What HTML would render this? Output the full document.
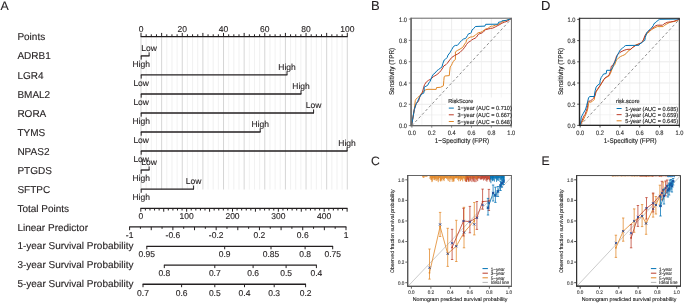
<!DOCTYPE html>
<html><head><meta charset="utf-8"><style>
html,body{margin:0;padding:0;background:#fff;}
body{width:685px;height:303px;overflow:hidden;}
svg{display:block;font-family:"Liberation Sans", sans-serif;}
svg{will-change:transform;}
text{text-rendering:geometricPrecision;stroke-width:0.12px;}
</style></head><body>
<svg width="685" height="303" viewBox="0 0 685 303">
<rect width="685" height="303" fill="#fff"/>
<text x="0.6" y="10" font-size="12.3" text-anchor="start" fill="#231f20" stroke="#231f20" >A</text>
<text x="17.4" y="40.3" font-size="10" text-anchor="start" fill="#231f20" stroke="#231f20" >Points</text>
<text x="17.4" y="59.4" font-size="10" text-anchor="start" fill="#231f20" stroke="#231f20" >ADRB1</text>
<text x="17.4" y="78.6" font-size="10" text-anchor="start" fill="#231f20" stroke="#231f20" >LGR4</text>
<text x="17.4" y="97.6" font-size="10" text-anchor="start" fill="#231f20" stroke="#231f20" >BMAL2</text>
<text x="17.4" y="116.6" font-size="10" text-anchor="start" fill="#231f20" stroke="#231f20" >RORA</text>
<text x="17.4" y="135.6" font-size="10" text-anchor="start" fill="#231f20" stroke="#231f20" >TYMS</text>
<text x="17.4" y="154.6" font-size="10" text-anchor="start" fill="#231f20" stroke="#231f20" >NPAS2</text>
<text x="17.4" y="173.6" font-size="10" text-anchor="start" fill="#231f20" stroke="#231f20" >PTGDS</text>
<text x="17.4" y="192.7" font-size="10" text-anchor="start" fill="#231f20" stroke="#231f20" >SFTPC</text>
<text x="17.4" y="211.7" font-size="10" text-anchor="start" fill="#231f20" stroke="#231f20" >Total Points</text>
<text x="17.4" y="230.8" font-size="10" text-anchor="start" fill="#231f20" stroke="#231f20" >Linear Predictor</text>
<text x="17.4" y="248.9" font-size="10" text-anchor="start" fill="#231f20" stroke="#231f20" >1-year Survival Probability</text>
<text x="17.4" y="267.8" font-size="10" text-anchor="start" fill="#231f20" stroke="#231f20" >3-year Survival Probability</text>
<text x="17.4" y="286.8" font-size="10" text-anchor="start" fill="#231f20" stroke="#231f20" >5-year Survival Probability</text>
<line x1="141" y1="37" x2="141" y2="189.5" stroke="#c4c4c4" stroke-width="0.7" />
<line x1="146.16" y1="37" x2="146.16" y2="189.5" stroke="#e8e8e8" stroke-width="0.6" />
<line x1="151.31" y1="37" x2="151.31" y2="189.5" stroke="#e8e8e8" stroke-width="0.6" />
<line x1="156.47" y1="37" x2="156.47" y2="189.5" stroke="#e8e8e8" stroke-width="0.6" />
<line x1="161.63" y1="37" x2="161.63" y2="189.5" stroke="#c4c4c4" stroke-width="0.7" />
<line x1="166.79" y1="37" x2="166.79" y2="189.5" stroke="#e8e8e8" stroke-width="0.6" />
<line x1="171.94" y1="37" x2="171.94" y2="189.5" stroke="#e8e8e8" stroke-width="0.6" />
<line x1="177.1" y1="37" x2="177.1" y2="189.5" stroke="#e8e8e8" stroke-width="0.6" />
<line x1="182.26" y1="37" x2="182.26" y2="189.5" stroke="#c4c4c4" stroke-width="0.7" />
<line x1="187.42" y1="37" x2="187.42" y2="189.5" stroke="#e8e8e8" stroke-width="0.6" />
<line x1="192.57" y1="37" x2="192.57" y2="189.5" stroke="#e8e8e8" stroke-width="0.6" />
<line x1="197.73" y1="37" x2="197.73" y2="189.5" stroke="#e8e8e8" stroke-width="0.6" />
<line x1="202.89" y1="37" x2="202.89" y2="189.5" stroke="#c4c4c4" stroke-width="0.7" />
<line x1="208.05" y1="37" x2="208.05" y2="189.5" stroke="#e8e8e8" stroke-width="0.6" />
<line x1="213.21" y1="37" x2="213.21" y2="189.5" stroke="#e8e8e8" stroke-width="0.6" />
<line x1="218.36" y1="37" x2="218.36" y2="189.5" stroke="#e8e8e8" stroke-width="0.6" />
<line x1="223.52" y1="37" x2="223.52" y2="189.5" stroke="#c4c4c4" stroke-width="0.7" />
<line x1="228.68" y1="37" x2="228.68" y2="189.5" stroke="#e8e8e8" stroke-width="0.6" />
<line x1="233.84" y1="37" x2="233.84" y2="189.5" stroke="#e8e8e8" stroke-width="0.6" />
<line x1="238.99" y1="37" x2="238.99" y2="189.5" stroke="#e8e8e8" stroke-width="0.6" />
<line x1="244.15" y1="37" x2="244.15" y2="189.5" stroke="#c4c4c4" stroke-width="0.7" />
<line x1="249.31" y1="37" x2="249.31" y2="189.5" stroke="#e8e8e8" stroke-width="0.6" />
<line x1="254.47" y1="37" x2="254.47" y2="189.5" stroke="#e8e8e8" stroke-width="0.6" />
<line x1="259.62" y1="37" x2="259.62" y2="189.5" stroke="#e8e8e8" stroke-width="0.6" />
<line x1="264.78" y1="37" x2="264.78" y2="189.5" stroke="#c4c4c4" stroke-width="0.7" />
<line x1="269.94" y1="37" x2="269.94" y2="189.5" stroke="#e8e8e8" stroke-width="0.6" />
<line x1="275.1" y1="37" x2="275.1" y2="189.5" stroke="#e8e8e8" stroke-width="0.6" />
<line x1="280.25" y1="37" x2="280.25" y2="189.5" stroke="#e8e8e8" stroke-width="0.6" />
<line x1="285.41" y1="37" x2="285.41" y2="189.5" stroke="#c4c4c4" stroke-width="0.7" />
<line x1="290.57" y1="37" x2="290.57" y2="189.5" stroke="#e8e8e8" stroke-width="0.6" />
<line x1="295.73" y1="37" x2="295.73" y2="189.5" stroke="#e8e8e8" stroke-width="0.6" />
<line x1="300.88" y1="37" x2="300.88" y2="189.5" stroke="#e8e8e8" stroke-width="0.6" />
<line x1="306.04" y1="37" x2="306.04" y2="189.5" stroke="#c4c4c4" stroke-width="0.7" />
<line x1="311.2" y1="37" x2="311.2" y2="189.5" stroke="#e8e8e8" stroke-width="0.6" />
<line x1="316.36" y1="37" x2="316.36" y2="189.5" stroke="#e8e8e8" stroke-width="0.6" />
<line x1="321.51" y1="37" x2="321.51" y2="189.5" stroke="#e8e8e8" stroke-width="0.6" />
<line x1="326.67" y1="37" x2="326.67" y2="189.5" stroke="#c4c4c4" stroke-width="0.7" />
<line x1="331.83" y1="37" x2="331.83" y2="189.5" stroke="#e8e8e8" stroke-width="0.6" />
<line x1="336.99" y1="37" x2="336.99" y2="189.5" stroke="#e8e8e8" stroke-width="0.6" />
<line x1="342.14" y1="37" x2="342.14" y2="189.5" stroke="#e8e8e8" stroke-width="0.6" />
<line x1="347.3" y1="37" x2="347.3" y2="189.5" stroke="#c4c4c4" stroke-width="0.7" />
<line x1="140.6" y1="36.6" x2="347.7" y2="36.6" stroke="#231f20" stroke-width="1.35" />
<line x1="141" y1="36.6" x2="141" y2="32.9" stroke="#231f20" stroke-width="1" />
<line x1="146.16" y1="36.6" x2="146.16" y2="34.3" stroke="#231f20" stroke-width="1" />
<line x1="151.31" y1="36.6" x2="151.31" y2="34.3" stroke="#231f20" stroke-width="1" />
<line x1="156.47" y1="36.6" x2="156.47" y2="34.3" stroke="#231f20" stroke-width="1" />
<line x1="161.63" y1="36.6" x2="161.63" y2="32.9" stroke="#231f20" stroke-width="1" />
<line x1="166.79" y1="36.6" x2="166.79" y2="34.3" stroke="#231f20" stroke-width="1" />
<line x1="171.94" y1="36.6" x2="171.94" y2="34.3" stroke="#231f20" stroke-width="1" />
<line x1="177.1" y1="36.6" x2="177.1" y2="34.3" stroke="#231f20" stroke-width="1" />
<line x1="182.26" y1="36.6" x2="182.26" y2="32.9" stroke="#231f20" stroke-width="1" />
<line x1="187.42" y1="36.6" x2="187.42" y2="34.3" stroke="#231f20" stroke-width="1" />
<line x1="192.57" y1="36.6" x2="192.57" y2="34.3" stroke="#231f20" stroke-width="1" />
<line x1="197.73" y1="36.6" x2="197.73" y2="34.3" stroke="#231f20" stroke-width="1" />
<line x1="202.89" y1="36.6" x2="202.89" y2="32.9" stroke="#231f20" stroke-width="1" />
<line x1="208.05" y1="36.6" x2="208.05" y2="34.3" stroke="#231f20" stroke-width="1" />
<line x1="213.21" y1="36.6" x2="213.21" y2="34.3" stroke="#231f20" stroke-width="1" />
<line x1="218.36" y1="36.6" x2="218.36" y2="34.3" stroke="#231f20" stroke-width="1" />
<line x1="223.52" y1="36.6" x2="223.52" y2="32.9" stroke="#231f20" stroke-width="1" />
<line x1="228.68" y1="36.6" x2="228.68" y2="34.3" stroke="#231f20" stroke-width="1" />
<line x1="233.84" y1="36.6" x2="233.84" y2="34.3" stroke="#231f20" stroke-width="1" />
<line x1="238.99" y1="36.6" x2="238.99" y2="34.3" stroke="#231f20" stroke-width="1" />
<line x1="244.15" y1="36.6" x2="244.15" y2="32.9" stroke="#231f20" stroke-width="1" />
<line x1="249.31" y1="36.6" x2="249.31" y2="34.3" stroke="#231f20" stroke-width="1" />
<line x1="254.47" y1="36.6" x2="254.47" y2="34.3" stroke="#231f20" stroke-width="1" />
<line x1="259.62" y1="36.6" x2="259.62" y2="34.3" stroke="#231f20" stroke-width="1" />
<line x1="264.78" y1="36.6" x2="264.78" y2="32.9" stroke="#231f20" stroke-width="1" />
<line x1="269.94" y1="36.6" x2="269.94" y2="34.3" stroke="#231f20" stroke-width="1" />
<line x1="275.1" y1="36.6" x2="275.1" y2="34.3" stroke="#231f20" stroke-width="1" />
<line x1="280.25" y1="36.6" x2="280.25" y2="34.3" stroke="#231f20" stroke-width="1" />
<line x1="285.41" y1="36.6" x2="285.41" y2="32.9" stroke="#231f20" stroke-width="1" />
<line x1="290.57" y1="36.6" x2="290.57" y2="34.3" stroke="#231f20" stroke-width="1" />
<line x1="295.73" y1="36.6" x2="295.73" y2="34.3" stroke="#231f20" stroke-width="1" />
<line x1="300.88" y1="36.6" x2="300.88" y2="34.3" stroke="#231f20" stroke-width="1" />
<line x1="306.04" y1="36.6" x2="306.04" y2="32.9" stroke="#231f20" stroke-width="1" />
<line x1="311.2" y1="36.6" x2="311.2" y2="34.3" stroke="#231f20" stroke-width="1" />
<line x1="316.36" y1="36.6" x2="316.36" y2="34.3" stroke="#231f20" stroke-width="1" />
<line x1="321.51" y1="36.6" x2="321.51" y2="34.3" stroke="#231f20" stroke-width="1" />
<line x1="326.67" y1="36.6" x2="326.67" y2="32.9" stroke="#231f20" stroke-width="1" />
<line x1="331.83" y1="36.6" x2="331.83" y2="34.3" stroke="#231f20" stroke-width="1" />
<line x1="336.99" y1="36.6" x2="336.99" y2="34.3" stroke="#231f20" stroke-width="1" />
<line x1="342.14" y1="36.6" x2="342.14" y2="34.3" stroke="#231f20" stroke-width="1" />
<line x1="347.3" y1="36.6" x2="347.3" y2="32.9" stroke="#231f20" stroke-width="1" />
<text x="141" y="31.5" font-size="8.5" text-anchor="middle" fill="#231f20" stroke="#231f20" >0</text>
<text x="182.26" y="31.5" font-size="8.5" text-anchor="middle" fill="#231f20" stroke="#231f20" >20</text>
<text x="223.52" y="31.5" font-size="8.5" text-anchor="middle" fill="#231f20" stroke="#231f20" >40</text>
<text x="264.78" y="31.5" font-size="8.5" text-anchor="middle" fill="#231f20" stroke="#231f20" >60</text>
<text x="306.04" y="31.5" font-size="8.5" text-anchor="middle" fill="#231f20" stroke="#231f20" >80</text>
<text x="347.3" y="31.5" font-size="8.5" text-anchor="middle" fill="#231f20" stroke="#231f20" >100</text>
<line x1="140.8" y1="55.9" x2="149.5" y2="55.9" stroke="#231f20" stroke-width="1.35" />
<line x1="141.2" y1="55.9" x2="141.2" y2="59.6" stroke="#231f20" stroke-width="1" />
<line x1="149.1" y1="55.9" x2="149.1" y2="52.3" stroke="#231f20" stroke-width="1" />
<text x="141.2" y="66.8" font-size="8.5" text-anchor="middle" fill="#231f20" stroke="#231f20" >High</text>
<text x="149.1" y="50.8" font-size="8.5" text-anchor="middle" fill="#231f20" stroke="#231f20" >Low</text>
<line x1="140.8" y1="74.9" x2="287.4" y2="74.9" stroke="#231f20" stroke-width="1.35" />
<line x1="141.2" y1="74.9" x2="141.2" y2="78.6" stroke="#231f20" stroke-width="1" />
<line x1="287" y1="74.9" x2="287" y2="71.3" stroke="#231f20" stroke-width="1" />
<text x="141.2" y="85.8" font-size="8.5" text-anchor="middle" fill="#231f20" stroke="#231f20" >Low</text>
<text x="287" y="69.8" font-size="8.5" text-anchor="middle" fill="#231f20" stroke="#231f20" >High</text>
<line x1="140.8" y1="94" x2="301.4" y2="94" stroke="#231f20" stroke-width="1.35" />
<line x1="141.2" y1="94" x2="141.2" y2="97.7" stroke="#231f20" stroke-width="1" />
<line x1="301" y1="94" x2="301" y2="90.4" stroke="#231f20" stroke-width="1" />
<text x="141.2" y="104.9" font-size="8.5" text-anchor="middle" fill="#231f20" stroke="#231f20" >Low</text>
<text x="301" y="88.9" font-size="8.5" text-anchor="middle" fill="#231f20" stroke="#231f20" >High</text>
<line x1="140.8" y1="113" x2="314" y2="113" stroke="#231f20" stroke-width="1.35" />
<line x1="141.2" y1="113" x2="141.2" y2="116.7" stroke="#231f20" stroke-width="1" />
<line x1="313.6" y1="113" x2="313.6" y2="109.4" stroke="#231f20" stroke-width="1" />
<text x="141.2" y="123.9" font-size="8.5" text-anchor="middle" fill="#231f20" stroke="#231f20" >High</text>
<text x="313.6" y="107.9" font-size="8.5" text-anchor="middle" fill="#231f20" stroke="#231f20" >Low</text>
<line x1="140.8" y1="132" x2="260.6" y2="132" stroke="#231f20" stroke-width="1.35" />
<line x1="141.2" y1="132" x2="141.2" y2="135.7" stroke="#231f20" stroke-width="1" />
<line x1="260.2" y1="132" x2="260.2" y2="128.4" stroke="#231f20" stroke-width="1" />
<text x="141.2" y="142.9" font-size="8.5" text-anchor="middle" fill="#231f20" stroke="#231f20" >Low</text>
<text x="260.2" y="126.9" font-size="8.5" text-anchor="middle" fill="#231f20" stroke="#231f20" >High</text>
<line x1="140.8" y1="151" x2="347.5" y2="151" stroke="#231f20" stroke-width="1.35" />
<line x1="141.2" y1="151" x2="141.2" y2="154.7" stroke="#231f20" stroke-width="1" />
<line x1="347.1" y1="151" x2="347.1" y2="147.4" stroke="#231f20" stroke-width="1" />
<text x="141.2" y="161.9" font-size="8.5" text-anchor="middle" fill="#231f20" stroke="#231f20" >Low</text>
<text x="347.1" y="145.9" font-size="8.5" text-anchor="middle" fill="#231f20" stroke="#231f20" >High</text>
<line x1="140.8" y1="170" x2="149.5" y2="170" stroke="#231f20" stroke-width="1.35" />
<line x1="141.2" y1="170" x2="141.2" y2="173.7" stroke="#231f20" stroke-width="1" />
<line x1="149.1" y1="170" x2="149.1" y2="166.4" stroke="#231f20" stroke-width="1" />
<text x="141.2" y="180.9" font-size="8.5" text-anchor="middle" fill="#231f20" stroke="#231f20" >High</text>
<text x="149.1" y="164.9" font-size="8.5" text-anchor="middle" fill="#231f20" stroke="#231f20" >Low</text>
<line x1="140.8" y1="189.1" x2="194" y2="189.1" stroke="#231f20" stroke-width="1.35" />
<line x1="141.2" y1="189.1" x2="141.2" y2="192.8" stroke="#231f20" stroke-width="1" />
<line x1="193.6" y1="189.1" x2="193.6" y2="185.5" stroke="#231f20" stroke-width="1" />
<text x="141.2" y="200" font-size="8.5" text-anchor="middle" fill="#231f20" stroke="#231f20" >High</text>
<text x="193.6" y="184" font-size="8.5" text-anchor="middle" fill="#231f20" stroke="#231f20" >Low</text>
<line x1="140.4" y1="208.3" x2="347.52" y2="208.3" stroke="#231f20" stroke-width="1.35" />
<line x1="140.8" y1="208.3" x2="140.8" y2="211.7" stroke="#231f20" stroke-width="1" />
<line x1="145.39" y1="208.3" x2="145.39" y2="210.5" stroke="#231f20" stroke-width="1" />
<line x1="149.97" y1="208.3" x2="149.97" y2="210.5" stroke="#231f20" stroke-width="1" />
<line x1="154.56" y1="208.3" x2="154.56" y2="210.5" stroke="#231f20" stroke-width="1" />
<line x1="159.14" y1="208.3" x2="159.14" y2="210.5" stroke="#231f20" stroke-width="1" />
<line x1="163.73" y1="208.3" x2="163.73" y2="211.7" stroke="#231f20" stroke-width="1" />
<line x1="168.31" y1="208.3" x2="168.31" y2="210.5" stroke="#231f20" stroke-width="1" />
<line x1="172.9" y1="208.3" x2="172.9" y2="210.5" stroke="#231f20" stroke-width="1" />
<line x1="177.48" y1="208.3" x2="177.48" y2="210.5" stroke="#231f20" stroke-width="1" />
<line x1="182.06" y1="208.3" x2="182.06" y2="210.5" stroke="#231f20" stroke-width="1" />
<line x1="186.65" y1="208.3" x2="186.65" y2="211.7" stroke="#231f20" stroke-width="1" />
<line x1="191.24" y1="208.3" x2="191.24" y2="210.5" stroke="#231f20" stroke-width="1" />
<line x1="195.82" y1="208.3" x2="195.82" y2="210.5" stroke="#231f20" stroke-width="1" />
<line x1="200.41" y1="208.3" x2="200.41" y2="210.5" stroke="#231f20" stroke-width="1" />
<line x1="204.99" y1="208.3" x2="204.99" y2="210.5" stroke="#231f20" stroke-width="1" />
<line x1="209.58" y1="208.3" x2="209.58" y2="211.7" stroke="#231f20" stroke-width="1" />
<line x1="214.16" y1="208.3" x2="214.16" y2="210.5" stroke="#231f20" stroke-width="1" />
<line x1="218.75" y1="208.3" x2="218.75" y2="210.5" stroke="#231f20" stroke-width="1" />
<line x1="223.33" y1="208.3" x2="223.33" y2="210.5" stroke="#231f20" stroke-width="1" />
<line x1="227.92" y1="208.3" x2="227.92" y2="210.5" stroke="#231f20" stroke-width="1" />
<line x1="232.5" y1="208.3" x2="232.5" y2="211.7" stroke="#231f20" stroke-width="1" />
<line x1="237.09" y1="208.3" x2="237.09" y2="210.5" stroke="#231f20" stroke-width="1" />
<line x1="241.67" y1="208.3" x2="241.67" y2="210.5" stroke="#231f20" stroke-width="1" />
<line x1="246.25" y1="208.3" x2="246.25" y2="210.5" stroke="#231f20" stroke-width="1" />
<line x1="250.84" y1="208.3" x2="250.84" y2="210.5" stroke="#231f20" stroke-width="1" />
<line x1="255.43" y1="208.3" x2="255.43" y2="211.7" stroke="#231f20" stroke-width="1" />
<line x1="260.01" y1="208.3" x2="260.01" y2="210.5" stroke="#231f20" stroke-width="1" />
<line x1="264.6" y1="208.3" x2="264.6" y2="210.5" stroke="#231f20" stroke-width="1" />
<line x1="269.18" y1="208.3" x2="269.18" y2="210.5" stroke="#231f20" stroke-width="1" />
<line x1="273.76" y1="208.3" x2="273.76" y2="210.5" stroke="#231f20" stroke-width="1" />
<line x1="278.35" y1="208.3" x2="278.35" y2="211.7" stroke="#231f20" stroke-width="1" />
<line x1="282.94" y1="208.3" x2="282.94" y2="210.5" stroke="#231f20" stroke-width="1" />
<line x1="287.52" y1="208.3" x2="287.52" y2="210.5" stroke="#231f20" stroke-width="1" />
<line x1="292.11" y1="208.3" x2="292.11" y2="210.5" stroke="#231f20" stroke-width="1" />
<line x1="296.69" y1="208.3" x2="296.69" y2="210.5" stroke="#231f20" stroke-width="1" />
<line x1="301.27" y1="208.3" x2="301.27" y2="211.7" stroke="#231f20" stroke-width="1" />
<line x1="305.86" y1="208.3" x2="305.86" y2="210.5" stroke="#231f20" stroke-width="1" />
<line x1="310.45" y1="208.3" x2="310.45" y2="210.5" stroke="#231f20" stroke-width="1" />
<line x1="315.03" y1="208.3" x2="315.03" y2="210.5" stroke="#231f20" stroke-width="1" />
<line x1="319.62" y1="208.3" x2="319.62" y2="210.5" stroke="#231f20" stroke-width="1" />
<line x1="324.2" y1="208.3" x2="324.2" y2="211.7" stroke="#231f20" stroke-width="1" />
<line x1="328.79" y1="208.3" x2="328.79" y2="210.5" stroke="#231f20" stroke-width="1" />
<line x1="333.37" y1="208.3" x2="333.37" y2="210.5" stroke="#231f20" stroke-width="1" />
<line x1="337.96" y1="208.3" x2="337.96" y2="210.5" stroke="#231f20" stroke-width="1" />
<line x1="342.54" y1="208.3" x2="342.54" y2="210.5" stroke="#231f20" stroke-width="1" />
<line x1="347.12" y1="208.3" x2="347.12" y2="211.7" stroke="#231f20" stroke-width="1" />
<text x="140.8" y="219.1" font-size="8.5" text-anchor="middle" fill="#231f20" stroke="#231f20" >0</text>
<text x="186.65" y="219.1" font-size="8.5" text-anchor="middle" fill="#231f20" stroke="#231f20" >100</text>
<text x="232.5" y="219.1" font-size="8.5" text-anchor="middle" fill="#231f20" stroke="#231f20" >200</text>
<text x="278.35" y="219.1" font-size="8.5" text-anchor="middle" fill="#231f20" stroke="#231f20" >300</text>
<text x="324.2" y="219.1" font-size="8.5" text-anchor="middle" fill="#231f20" stroke="#231f20" >400</text>
<line x1="129.2" y1="226.9" x2="346.4" y2="226.9" stroke="#231f20" stroke-width="1.35" />
<line x1="129.6" y1="226.9" x2="129.6" y2="230.2" stroke="#231f20" stroke-width="1" />
<line x1="140.42" y1="226.9" x2="140.42" y2="228.8" stroke="#231f20" stroke-width="1" />
<line x1="151.24" y1="226.9" x2="151.24" y2="230.2" stroke="#231f20" stroke-width="1" />
<line x1="162.06" y1="226.9" x2="162.06" y2="228.8" stroke="#231f20" stroke-width="1" />
<line x1="172.88" y1="226.9" x2="172.88" y2="230.2" stroke="#231f20" stroke-width="1" />
<line x1="183.7" y1="226.9" x2="183.7" y2="228.8" stroke="#231f20" stroke-width="1" />
<line x1="194.52" y1="226.9" x2="194.52" y2="230.2" stroke="#231f20" stroke-width="1" />
<line x1="205.34" y1="226.9" x2="205.34" y2="228.8" stroke="#231f20" stroke-width="1" />
<line x1="216.16" y1="226.9" x2="216.16" y2="230.2" stroke="#231f20" stroke-width="1" />
<line x1="226.98" y1="226.9" x2="226.98" y2="228.8" stroke="#231f20" stroke-width="1" />
<line x1="237.8" y1="226.9" x2="237.8" y2="230.2" stroke="#231f20" stroke-width="1" />
<line x1="248.62" y1="226.9" x2="248.62" y2="228.8" stroke="#231f20" stroke-width="1" />
<line x1="259.44" y1="226.9" x2="259.44" y2="230.2" stroke="#231f20" stroke-width="1" />
<line x1="270.26" y1="226.9" x2="270.26" y2="228.8" stroke="#231f20" stroke-width="1" />
<line x1="281.08" y1="226.9" x2="281.08" y2="230.2" stroke="#231f20" stroke-width="1" />
<line x1="291.9" y1="226.9" x2="291.9" y2="228.8" stroke="#231f20" stroke-width="1" />
<line x1="302.72" y1="226.9" x2="302.72" y2="230.2" stroke="#231f20" stroke-width="1" />
<line x1="313.54" y1="226.9" x2="313.54" y2="228.8" stroke="#231f20" stroke-width="1" />
<line x1="324.36" y1="226.9" x2="324.36" y2="230.2" stroke="#231f20" stroke-width="1" />
<line x1="335.18" y1="226.9" x2="335.18" y2="228.8" stroke="#231f20" stroke-width="1" />
<line x1="346" y1="226.9" x2="346" y2="230.2" stroke="#231f20" stroke-width="1" />
<text x="129.6" y="238.1" font-size="8.5" text-anchor="middle" fill="#231f20" stroke="#231f20" >-1</text>
<text x="172.88" y="238.1" font-size="8.5" text-anchor="middle" fill="#231f20" stroke="#231f20" >-0.6</text>
<text x="216.16" y="238.1" font-size="8.5" text-anchor="middle" fill="#231f20" stroke="#231f20" >-0.2</text>
<text x="259.44" y="238.1" font-size="8.5" text-anchor="middle" fill="#231f20" stroke="#231f20" >0.2</text>
<text x="302.72" y="238.1" font-size="8.5" text-anchor="middle" fill="#231f20" stroke="#231f20" >0.6</text>
<text x="346" y="238.1" font-size="8.5" text-anchor="middle" fill="#231f20" stroke="#231f20" >1</text>
<line x1="146.4" y1="246.3" x2="333.1" y2="246.3" stroke="#231f20" stroke-width="1.35" />
<line x1="146.8" y1="246.3" x2="146.8" y2="249.3" stroke="#231f20" stroke-width="1" />
<text x="146.8" y="257.4" font-size="8.5" text-anchor="middle" fill="#231f20" stroke="#231f20" >0.95</text>
<line x1="224.7" y1="246.3" x2="224.7" y2="249.3" stroke="#231f20" stroke-width="1" />
<text x="224.7" y="257.4" font-size="8.5" text-anchor="middle" fill="#231f20" stroke="#231f20" >0.9</text>
<line x1="271" y1="246.3" x2="271" y2="249.3" stroke="#231f20" stroke-width="1" />
<text x="271" y="257.4" font-size="8.5" text-anchor="middle" fill="#231f20" stroke="#231f20" >0.85</text>
<line x1="305.1" y1="246.3" x2="305.1" y2="249.3" stroke="#231f20" stroke-width="1" />
<text x="305.1" y="257.4" font-size="8.5" text-anchor="middle" fill="#231f20" stroke="#231f20" >0.8</text>
<line x1="332.7" y1="246.3" x2="332.7" y2="249.3" stroke="#231f20" stroke-width="1" />
<text x="332.7" y="257.4" font-size="8.5" text-anchor="middle" fill="#231f20" stroke="#231f20" >0.75</text>
<line x1="163.9" y1="265.1" x2="316.8" y2="265.1" stroke="#231f20" stroke-width="1.35" />
<line x1="164.3" y1="265.1" x2="164.3" y2="268.1" stroke="#231f20" stroke-width="1" />
<text x="164.3" y="276.2" font-size="8.5" text-anchor="middle" fill="#231f20" stroke="#231f20" >0.8</text>
<line x1="214.8" y1="265.1" x2="214.8" y2="268.1" stroke="#231f20" stroke-width="1" />
<text x="214.8" y="276.2" font-size="8.5" text-anchor="middle" fill="#231f20" stroke="#231f20" >0.7</text>
<line x1="253.1" y1="265.1" x2="253.1" y2="268.1" stroke="#231f20" stroke-width="1" />
<text x="253.1" y="276.2" font-size="8.5" text-anchor="middle" fill="#231f20" stroke="#231f20" >0.6</text>
<line x1="286.1" y1="265.1" x2="286.1" y2="268.1" stroke="#231f20" stroke-width="1" />
<text x="286.1" y="276.2" font-size="8.5" text-anchor="middle" fill="#231f20" stroke="#231f20" >0.5</text>
<line x1="316.4" y1="265.1" x2="316.4" y2="268.1" stroke="#231f20" stroke-width="1" />
<text x="316.4" y="276.2" font-size="8.5" text-anchor="middle" fill="#231f20" stroke="#231f20" >0.4</text>
<line x1="142.6" y1="284.2" x2="306" y2="284.2" stroke="#231f20" stroke-width="1.35" />
<line x1="143" y1="284.2" x2="143" y2="287.2" stroke="#231f20" stroke-width="1" />
<text x="143" y="295.6" font-size="8.5" text-anchor="middle" fill="#231f20" stroke="#231f20" >0.7</text>
<line x1="181.6" y1="284.2" x2="181.6" y2="287.2" stroke="#231f20" stroke-width="1" />
<text x="181.6" y="295.6" font-size="8.5" text-anchor="middle" fill="#231f20" stroke="#231f20" >0.6</text>
<line x1="214.8" y1="284.2" x2="214.8" y2="287.2" stroke="#231f20" stroke-width="1" />
<text x="214.8" y="295.6" font-size="8.5" text-anchor="middle" fill="#231f20" stroke="#231f20" >0.5</text>
<line x1="244.5" y1="284.2" x2="244.5" y2="287.2" stroke="#231f20" stroke-width="1" />
<text x="244.5" y="295.6" font-size="8.5" text-anchor="middle" fill="#231f20" stroke="#231f20" >0.4</text>
<line x1="274.2" y1="284.2" x2="274.2" y2="287.2" stroke="#231f20" stroke-width="1" />
<text x="274.2" y="295.6" font-size="8.5" text-anchor="middle" fill="#231f20" stroke="#231f20" >0.3</text>
<line x1="305.6" y1="284.2" x2="305.6" y2="287.2" stroke="#231f20" stroke-width="1" />
<text x="305.6" y="295.6" font-size="8.5" text-anchor="middle" fill="#231f20" stroke="#231f20" >0.2</text>
<text x="371" y="9.7" font-size="13" text-anchor="start" fill="#231f20" stroke="#231f20" >B</text>
<line x1="421.83" y1="18.2" x2="421.83" y2="125.6" stroke="#efefef" stroke-width="0.7" />
<line x1="411.1" y1="114.95" x2="511.4" y2="114.95" stroke="#efefef" stroke-width="0.7" />
<line x1="431.76" y1="18.2" x2="431.76" y2="125.6" stroke="#e4e4e4" stroke-width="0.7" />
<line x1="411.1" y1="104.3" x2="511.4" y2="104.3" stroke="#e4e4e4" stroke-width="0.7" />
<line x1="441.69" y1="18.2" x2="441.69" y2="125.6" stroke="#efefef" stroke-width="0.7" />
<line x1="411.1" y1="93.65" x2="511.4" y2="93.65" stroke="#efefef" stroke-width="0.7" />
<line x1="451.62" y1="18.2" x2="451.62" y2="125.6" stroke="#e4e4e4" stroke-width="0.7" />
<line x1="411.1" y1="83" x2="511.4" y2="83" stroke="#e4e4e4" stroke-width="0.7" />
<line x1="461.55" y1="18.2" x2="461.55" y2="125.6" stroke="#efefef" stroke-width="0.7" />
<line x1="411.1" y1="72.35" x2="511.4" y2="72.35" stroke="#efefef" stroke-width="0.7" />
<line x1="471.48" y1="18.2" x2="471.48" y2="125.6" stroke="#e4e4e4" stroke-width="0.7" />
<line x1="411.1" y1="61.7" x2="511.4" y2="61.7" stroke="#e4e4e4" stroke-width="0.7" />
<line x1="481.41" y1="18.2" x2="481.41" y2="125.6" stroke="#efefef" stroke-width="0.7" />
<line x1="411.1" y1="51.05" x2="511.4" y2="51.05" stroke="#efefef" stroke-width="0.7" />
<line x1="491.34" y1="18.2" x2="491.34" y2="125.6" stroke="#e4e4e4" stroke-width="0.7" />
<line x1="411.1" y1="40.4" x2="511.4" y2="40.4" stroke="#e4e4e4" stroke-width="0.7" />
<line x1="501.27" y1="18.2" x2="501.27" y2="125.6" stroke="#efefef" stroke-width="0.7" />
<line x1="411.1" y1="29.75" x2="511.4" y2="29.75" stroke="#efefef" stroke-width="0.7" />
<rect x="446" y="97.5" width="65.3" height="28" fill="#fff" stroke="none" stroke-width="1" />
<line x1="411.9" y1="125.6" x2="511.2" y2="19.1" stroke="#7a7a7a" stroke-width="0.85" stroke-dasharray="2.7 2.3"/>
<polyline points="411.6,125.5 414.3,109.5 415.3,100.4 416,99.2 417.7,97.5 419.9,95.7 421.6,93.2 423.7,91 425.9,89.7 428,89.3 436.2,89.4 436.5,87.6 440.5,87.3 443.4,85.8 443.8,80.7 444.2,76.7 444.9,76 449.3,75.6 449.6,72 450.2,66.9 451.5,65.2 452.3,63.4 453.2,61.7 454.5,60 455.4,59.5 455.4,51.9 457.3,50.5 460,49.1 462.8,47.3 464.7,44 466.1,42.2 466.5,39.9 467.9,38.5 470.2,37.1 472.5,36.8 475,35.6 476.6,33.9 478.3,32.7 480.7,32.3 482.4,31.4 484,30.2 485.7,29 487.7,28.6 489.8,26.9 491.5,26.1 492.6,26.2 495.3,25.2 497.9,24.5 500.5,23.2 501.9,21.9 503.2,21.3 506.5,20.3 511.3,18.5" fill="none" stroke="#E18727" stroke-width="1" stroke-linejoin="round" />
<polyline points="411.6,125.5 414.3,109.5 416.2,103.7 418.6,101 419.9,96.6 422.4,92.3 423.7,87.2 424.6,84.6 426.3,82 428.5,80.3 430.6,79.3 433.4,76.7 436.9,74.6 439.4,72.5 441.2,70.3 442.9,67.7 443.7,66 445.9,64.7 447.2,63.4 449.7,60 451.7,57.5 454.5,55.6 457.3,54.2 460,52.4 462.8,49.6 464.7,47.3 466.5,44.5 468.4,42.2 470.2,41.3 471.7,40 473.3,39 475,38.3 476.6,37 478.3,34.3 479.9,33.6 482.4,32.8 484,31.2 485.7,29.6 488.2,29 490.6,28.4 492.6,28.2 495.3,26.9 497.9,25.5 499.9,24.5 501.9,23.2 504.5,22.2 507.1,21.3 511.3,18.5" fill="none" stroke="#BC3C29" stroke-width="1" stroke-linejoin="round" />
<polyline points="411.6,125.5 414.3,109.5 416.2,103.7 417.3,101.8 419.4,97.5 421.6,94 423.7,93.2 424.2,91 424.2,87.2 425.9,86.3 427.6,85.4 428.9,82.9 430.2,81.2 431.7,77.2 433.4,74.2 435.2,72.9 436.9,70.7 438.6,69.5 440.3,68.2 442,66.9 442.9,63.4 444.2,60 445.5,59.2 447.2,57.4 448,55.1 449.9,52.8 451.7,49.6 453.6,46.4 455.4,45.4 457.3,45.4 458.6,44 460,42.2 461.9,40.3 463.7,38.9 465.6,38.5 467.4,35.7 468.4,33.9 470.7,33.2 471.2,32.7 472.1,29.8 473.7,28.6 475.4,26.5 484.9,26.1 485.7,24.3 497.9,24.2 498.6,22.2 500.9,21.9 501.9,20.9 506.5,20.3 511.3,18.5" fill="none" stroke="#0072B5" stroke-width="1" stroke-linejoin="round" />
<rect x="411.1" y="18.2" width="100.3" height="107.4" fill="none" stroke="#666666" stroke-width="1" />
<line x1="411.1" y1="17.7" x2="411.1" y2="126.2" stroke="#666666" stroke-width="1.4" />
<line x1="410.5" y1="125.6" x2="511.9" y2="125.6" stroke="#666666" stroke-width="1.4" />
<line x1="408.8" y1="125.6" x2="411.1" y2="125.6" stroke="#666666" stroke-width="0.8" />
<line x1="411.9" y1="125.6" x2="411.9" y2="127.7" stroke="#666666" stroke-width="0.8" />
<text transform="translate(407 128.1) scale(1 1.12)" font-size="5.7" text-anchor="end" fill="#333333" stroke="#333333" >0.0</text>
<text transform="translate(411.9 134.8) scale(1 1.12)" font-size="5.7" text-anchor="middle" fill="#333333" stroke="#333333" >0.0</text>
<line x1="408.8" y1="104.3" x2="411.1" y2="104.3" stroke="#666666" stroke-width="0.8" />
<line x1="431.76" y1="125.6" x2="431.76" y2="127.7" stroke="#666666" stroke-width="0.8" />
<text transform="translate(407 106.8) scale(1 1.12)" font-size="5.7" text-anchor="end" fill="#333333" stroke="#333333" >0.2</text>
<text transform="translate(431.76 134.8) scale(1 1.12)" font-size="5.7" text-anchor="middle" fill="#333333" stroke="#333333" >0.2</text>
<line x1="408.8" y1="83" x2="411.1" y2="83" stroke="#666666" stroke-width="0.8" />
<line x1="451.62" y1="125.6" x2="451.62" y2="127.7" stroke="#666666" stroke-width="0.8" />
<text transform="translate(407 85.5) scale(1 1.12)" font-size="5.7" text-anchor="end" fill="#333333" stroke="#333333" >0.4</text>
<text transform="translate(451.62 134.8) scale(1 1.12)" font-size="5.7" text-anchor="middle" fill="#333333" stroke="#333333" >0.4</text>
<line x1="408.8" y1="61.7" x2="411.1" y2="61.7" stroke="#666666" stroke-width="0.8" />
<line x1="471.48" y1="125.6" x2="471.48" y2="127.7" stroke="#666666" stroke-width="0.8" />
<text transform="translate(407 64.2) scale(1 1.12)" font-size="5.7" text-anchor="end" fill="#333333" stroke="#333333" >0.6</text>
<text transform="translate(471.48 134.8) scale(1 1.12)" font-size="5.7" text-anchor="middle" fill="#333333" stroke="#333333" >0.6</text>
<line x1="408.8" y1="40.4" x2="411.1" y2="40.4" stroke="#666666" stroke-width="0.8" />
<line x1="491.34" y1="125.6" x2="491.34" y2="127.7" stroke="#666666" stroke-width="0.8" />
<text transform="translate(407 42.9) scale(1 1.12)" font-size="5.7" text-anchor="end" fill="#333333" stroke="#333333" >0.8</text>
<text transform="translate(491.34 134.8) scale(1 1.12)" font-size="5.7" text-anchor="middle" fill="#333333" stroke="#333333" >0.8</text>
<line x1="408.8" y1="19.1" x2="411.1" y2="19.1" stroke="#666666" stroke-width="0.8" />
<line x1="511.2" y1="125.6" x2="511.2" y2="127.7" stroke="#666666" stroke-width="0.8" />
<text transform="translate(407 21.6) scale(1 1.12)" font-size="5.7" text-anchor="end" fill="#333333" stroke="#333333" >1.0</text>
<text transform="translate(511.2 134.8) scale(1 1.12)" font-size="5.7" text-anchor="middle" fill="#333333" stroke="#333333" >1.0</text>
<text transform="translate(461.9 142.7) scale(1 1.1)" font-size="6.35" text-anchor="middle" fill="#1a1a1a" stroke="#1a1a1a" >1−Specificity (FPR)</text>
<text transform="translate(394.4 71.5) rotate(-90) scale(1 1.1)" font-size="6.35" text-anchor="middle" fill="#1a1a1a" stroke="#1a1a1a" >Sensitivity (TPR)</text>
<text transform="translate(448.2 103.2) scale(1 1.05)" font-size="5.5" text-anchor="start" fill="#1a1a1a" stroke="#1a1a1a" >RiskScore</text>
<line x1="448.8" y1="108.1" x2="453.8" y2="108.1" stroke="#0072B5" stroke-width="1" />
<text transform="translate(457.5 110.1) scale(1 1.05)" font-size="5.55" text-anchor="start" fill="#1a1a1a" stroke="#1a1a1a" >1−year (AUC = 0.710)</text>
<line x1="448.8" y1="114.8" x2="453.8" y2="114.8" stroke="#BC3C29" stroke-width="1" />
<text transform="translate(457.5 116.8) scale(1 1.05)" font-size="5.55" text-anchor="start" fill="#1a1a1a" stroke="#1a1a1a" >3−year (AUC = 0.667)</text>
<line x1="448.8" y1="121.5" x2="453.8" y2="121.5" stroke="#E18727" stroke-width="1" />
<text transform="translate(457.5 123.5) scale(1 1.05)" font-size="5.55" text-anchor="start" fill="#1a1a1a" stroke="#1a1a1a" >5−year (AUC = 0.648)</text>
<text x="540.9" y="9.7" font-size="13" text-anchor="start" fill="#231f20" stroke="#231f20" >D</text>
<line x1="590.12" y1="18.3" x2="590.12" y2="125.4" stroke="#efefef" stroke-width="0.7" />
<line x1="579.5" y1="114.8" x2="679.3" y2="114.8" stroke="#efefef" stroke-width="0.7" />
<line x1="600.04" y1="18.3" x2="600.04" y2="125.4" stroke="#e4e4e4" stroke-width="0.7" />
<line x1="579.5" y1="104.2" x2="679.3" y2="104.2" stroke="#e4e4e4" stroke-width="0.7" />
<line x1="609.96" y1="18.3" x2="609.96" y2="125.4" stroke="#efefef" stroke-width="0.7" />
<line x1="579.5" y1="93.6" x2="679.3" y2="93.6" stroke="#efefef" stroke-width="0.7" />
<line x1="619.88" y1="18.3" x2="619.88" y2="125.4" stroke="#e4e4e4" stroke-width="0.7" />
<line x1="579.5" y1="83" x2="679.3" y2="83" stroke="#e4e4e4" stroke-width="0.7" />
<line x1="629.8" y1="18.3" x2="629.8" y2="125.4" stroke="#efefef" stroke-width="0.7" />
<line x1="579.5" y1="72.4" x2="679.3" y2="72.4" stroke="#efefef" stroke-width="0.7" />
<line x1="639.72" y1="18.3" x2="639.72" y2="125.4" stroke="#e4e4e4" stroke-width="0.7" />
<line x1="579.5" y1="61.8" x2="679.3" y2="61.8" stroke="#e4e4e4" stroke-width="0.7" />
<line x1="649.64" y1="18.3" x2="649.64" y2="125.4" stroke="#efefef" stroke-width="0.7" />
<line x1="579.5" y1="51.2" x2="679.3" y2="51.2" stroke="#efefef" stroke-width="0.7" />
<line x1="659.56" y1="18.3" x2="659.56" y2="125.4" stroke="#e4e4e4" stroke-width="0.7" />
<line x1="579.5" y1="40.6" x2="679.3" y2="40.6" stroke="#e4e4e4" stroke-width="0.7" />
<line x1="669.48" y1="18.3" x2="669.48" y2="125.4" stroke="#efefef" stroke-width="0.7" />
<line x1="579.5" y1="30" x2="679.3" y2="30" stroke="#efefef" stroke-width="0.7" />
<rect x="614" y="105" width="65" height="19.5" fill="#fff" stroke="none" stroke-width="1" />
<line x1="580.2" y1="125.4" x2="679.4" y2="19.4" stroke="#7a7a7a" stroke-width="0.85" stroke-dasharray="2.7 2.3"/>
<polyline points="580.4,124.5 582.8,121 584.2,118.1 585.7,114.7 587.1,111.4 588,107.6 588.5,103.7 589,101.8 590.4,102.3 592.4,101.3 594.3,99.4 595.2,93.2 597,90.5 598.9,87.7 600.7,84.9 602.1,82.2 603.5,79.8 604.9,78.5 606.7,77.1 608.8,76.2 610.4,73.5 612,69.3 613,66.6 614.6,65.1 615.7,61.9 616.7,59.8 618.3,58.2 620.4,56.6 622.5,55.6 624.1,55 626.2,53.5 628,51.2 630,49.8 631.9,48.3 633.9,46.3 635.9,44.8 637.4,44.3 639.9,43.8 641.8,42.3 643.3,40.4 644.3,37.9 645.8,35.4 647.3,33.4 649.8,31.4 651.7,29.5 654,28.2 656,27.2 657.3,26.6 663.2,26.6 664.6,25.2 666.5,24.2 669.2,22.6 671.8,21.9 675.1,21.3 677.8,20.3 679.4,19" fill="none" stroke="#E18727" stroke-width="1" stroke-linejoin="round" />
<polyline points="580.4,124.5 582.3,120 583.7,116.2 585.2,114.3 586.1,111.4 587.1,108.5 587.6,105.7 587.6,101.8 588.5,101.3 590.4,100.9 592.4,99.4 593.8,98 595.2,95.1 596.1,91.4 597.9,88.6 599.8,85.9 601.6,83.1 603,81.2 603.9,79.4 604.9,78 607.2,76.6 609.3,74.6 610.4,71.4 611.4,66.1 613,65.1 614.6,61.9 615.7,58.7 616.7,55.6 618.3,54 619.9,52.4 622,51.3 624.1,50.3 626.2,49.6 628,49.3 630.5,49.3 632.9,47.3 635.9,45.3 637.9,44.3 640.4,43.3 642.3,41.8 643.8,38.9 644.8,35.9 646.3,33.4 648.3,31.4 650.3,30 652,28.4 654.6,26.6 656,25.6 657.3,25.2 662.6,25.2 663.9,23.9 665.2,23.3 667.2,22.3 670.5,21.9 673.8,21.3 676.5,20.3 679.4,19" fill="none" stroke="#BC3C29" stroke-width="1" stroke-linejoin="round" />
<polyline points="580.4,124.5 581.3,117.1 582.3,115.2 583.3,113.3 584.7,110.9 585.7,109 586.6,105.7 587.6,101.8 588.5,98 589.6,96.5 594.2,96.5 595.2,90.5 596.1,87.2 597.9,84.9 599.8,84 600.2,80.3 601.2,77.5 602.5,75.7 603.5,74 606.2,73.6 606.7,70.3 610.9,70.3 612.5,67.7 613.6,64.5 615.1,61.4 616.2,58.7 617.3,55.6 618.8,52.4 620.4,49.8 622.5,48.2 624.1,46.6 625.7,45.5 638.9,45.3 639.9,43.8 641.8,42.8 643.3,41.3 644.8,40.4 645.3,37.4 646.3,33.9 647.3,31.9 648.8,30.5 650.8,28.5 652,27.2 653.3,25.6 654,23.6 655.3,22.9 656.6,21.3 657.9,20.6 659.3,19.3 679.4,19" fill="none" stroke="#0072B5" stroke-width="1" stroke-linejoin="round" />
<rect x="579.5" y="18.3" width="99.8" height="107.1" fill="none" stroke="#262626" stroke-width="1" />
<line x1="579.5" y1="17.8" x2="579.5" y2="126" stroke="#262626" stroke-width="1.4" />
<line x1="578.9" y1="125.4" x2="679.8" y2="125.4" stroke="#262626" stroke-width="1.4" />
<line x1="577.2" y1="125.4" x2="579.5" y2="125.4" stroke="#262626" stroke-width="0.8" />
<line x1="580.2" y1="125.4" x2="580.2" y2="127.5" stroke="#262626" stroke-width="0.8" />
<text transform="translate(575.4 127.9) scale(1 1.12)" font-size="5.7" text-anchor="end" fill="#333333" stroke="#333333" >0.0</text>
<text transform="translate(580.2 134.8) scale(1 1.12)" font-size="5.7" text-anchor="middle" fill="#333333" stroke="#333333" >0.0</text>
<line x1="577.2" y1="104.2" x2="579.5" y2="104.2" stroke="#262626" stroke-width="0.8" />
<line x1="600.04" y1="125.4" x2="600.04" y2="127.5" stroke="#262626" stroke-width="0.8" />
<text transform="translate(575.4 106.7) scale(1 1.12)" font-size="5.7" text-anchor="end" fill="#333333" stroke="#333333" >0.2</text>
<text transform="translate(600.04 134.8) scale(1 1.12)" font-size="5.7" text-anchor="middle" fill="#333333" stroke="#333333" >0.2</text>
<line x1="577.2" y1="83" x2="579.5" y2="83" stroke="#262626" stroke-width="0.8" />
<line x1="619.88" y1="125.4" x2="619.88" y2="127.5" stroke="#262626" stroke-width="0.8" />
<text transform="translate(575.4 85.5) scale(1 1.12)" font-size="5.7" text-anchor="end" fill="#333333" stroke="#333333" >0.4</text>
<text transform="translate(619.88 134.8) scale(1 1.12)" font-size="5.7" text-anchor="middle" fill="#333333" stroke="#333333" >0.4</text>
<line x1="577.2" y1="61.8" x2="579.5" y2="61.8" stroke="#262626" stroke-width="0.8" />
<line x1="639.72" y1="125.4" x2="639.72" y2="127.5" stroke="#262626" stroke-width="0.8" />
<text transform="translate(575.4 64.3) scale(1 1.12)" font-size="5.7" text-anchor="end" fill="#333333" stroke="#333333" >0.6</text>
<text transform="translate(639.72 134.8) scale(1 1.12)" font-size="5.7" text-anchor="middle" fill="#333333" stroke="#333333" >0.6</text>
<line x1="577.2" y1="40.6" x2="579.5" y2="40.6" stroke="#262626" stroke-width="0.8" />
<line x1="659.56" y1="125.4" x2="659.56" y2="127.5" stroke="#262626" stroke-width="0.8" />
<text transform="translate(575.4 43.1) scale(1 1.12)" font-size="5.7" text-anchor="end" fill="#333333" stroke="#333333" >0.8</text>
<text transform="translate(659.56 134.8) scale(1 1.12)" font-size="5.7" text-anchor="middle" fill="#333333" stroke="#333333" >0.8</text>
<line x1="577.2" y1="19.4" x2="579.5" y2="19.4" stroke="#262626" stroke-width="0.8" />
<line x1="679.4" y1="125.4" x2="679.4" y2="127.5" stroke="#262626" stroke-width="0.8" />
<text transform="translate(575.4 21.9) scale(1 1.12)" font-size="5.7" text-anchor="end" fill="#333333" stroke="#333333" >1.0</text>
<text transform="translate(679.4 134.8) scale(1 1.12)" font-size="5.7" text-anchor="middle" fill="#333333" stroke="#333333" >1.0</text>
<text transform="translate(630.2 142.7) scale(1 1.1)" font-size="6.35" text-anchor="middle" fill="#1a1a1a" stroke="#1a1a1a" >1-Specificity (FPR)</text>
<text transform="translate(562.8 71.5) rotate(-90) scale(1 1.1)" font-size="6.35" text-anchor="middle" fill="#1a1a1a" stroke="#1a1a1a" >Sensitivity (TPR)</text>
<text transform="translate(616 103.2) scale(1 1.05)" font-size="5.5" text-anchor="start" fill="#1a1a1a" stroke="#1a1a1a" >risk.score</text>
<line x1="616.6" y1="108.5" x2="621.6" y2="108.5" stroke="#0072B5" stroke-width="1" />
<text transform="translate(625.3 110.5) scale(1 1.05)" font-size="5.55" text-anchor="start" fill="#1a1a1a" stroke="#1a1a1a" >1-year (AUC = 0.685)</text>
<line x1="616.6" y1="114.65" x2="621.6" y2="114.65" stroke="#BC3C29" stroke-width="1" />
<text transform="translate(625.3 116.65) scale(1 1.05)" font-size="5.55" text-anchor="start" fill="#1a1a1a" stroke="#1a1a1a" >3-year (AUC = 0.659)</text>
<line x1="616.6" y1="120.8" x2="621.6" y2="120.8" stroke="#E18727" stroke-width="1" />
<text transform="translate(625.3 122.8) scale(1 1.05)" font-size="5.55" text-anchor="start" fill="#1a1a1a" stroke="#1a1a1a" >5-year (AUC = 0.645)</text>
<text x="371" y="165.3" font-size="12.2" text-anchor="start" fill="#231f20" stroke="#231f20" >C</text>
<clipPath id="cpC"><rect x="407.7" y="175.5" width="103.7" height="110.8"/></clipPath>
<g clip-path="url(#cpC)">
<line x1="401.65" y1="292.99" x2="518.65" y2="169.51" stroke="#b5b5b5" stroke-width="0.7" />
<line x1="422.7" y1="175.5" x2="422.7" y2="177.28" stroke="#E18727" stroke-width="0.8" stroke-opacity="1.0"/>
<line x1="423.42" y1="175.5" x2="423.42" y2="177.86" stroke="#E18727" stroke-width="0.8" stroke-opacity="1.0"/>
<line x1="424.08" y1="175.5" x2="424.08" y2="177.63" stroke="#E18727" stroke-width="0.8" stroke-opacity="1.0"/>
<line x1="424.97" y1="175.5" x2="424.97" y2="177.02" stroke="#E18727" stroke-width="0.8" stroke-opacity="1.0"/>
<line x1="425.98" y1="175.5" x2="425.98" y2="177.01" stroke="#E18727" stroke-width="0.8" stroke-opacity="1.0"/>
<line x1="426.92" y1="175.5" x2="426.92" y2="177.02" stroke="#E18727" stroke-width="0.8" stroke-opacity="1.0"/>
<line x1="430" y1="175.5" x2="430" y2="179.02" stroke="#E18727" stroke-width="0.8" stroke-opacity="1.0"/>
<line x1="430.57" y1="175.5" x2="430.57" y2="178.06" stroke="#E18727" stroke-width="0.8" stroke-opacity="1.0"/>
<line x1="430.92" y1="175.5" x2="430.92" y2="179.99" stroke="#E18727" stroke-width="0.8" stroke-opacity="1.0"/>
<line x1="431.53" y1="175.5" x2="431.53" y2="179.73" stroke="#E18727" stroke-width="0.8" stroke-opacity="1.0"/>
<line x1="431.94" y1="175.5" x2="431.94" y2="182.13" stroke="#E18727" stroke-width="0.8" stroke-opacity="1.0"/>
<line x1="432.23" y1="175.5" x2="432.23" y2="181.35" stroke="#E18727" stroke-width="0.8" stroke-opacity="1.0"/>
<line x1="432.6" y1="175.5" x2="432.6" y2="178.1" stroke="#E18727" stroke-width="0.8" stroke-opacity="1.0"/>
<line x1="432.92" y1="175.5" x2="432.92" y2="178.57" stroke="#E18727" stroke-width="0.8" stroke-opacity="1.0"/>
<line x1="433.48" y1="175.5" x2="433.48" y2="178.18" stroke="#E18727" stroke-width="0.8" stroke-opacity="1.0"/>
<line x1="433.96" y1="175.5" x2="433.96" y2="180.05" stroke="#E18727" stroke-width="0.8" stroke-opacity="1.0"/>
<line x1="434.36" y1="175.5" x2="434.36" y2="179.58" stroke="#E18727" stroke-width="0.8" stroke-opacity="1.0"/>
<line x1="434.66" y1="175.5" x2="434.66" y2="177.95" stroke="#E18727" stroke-width="0.8" stroke-opacity="1.0"/>
<line x1="435" y1="175.5" x2="435" y2="180.28" stroke="#E18727" stroke-width="0.8" stroke-opacity="1.0"/>
<line x1="435.42" y1="175.5" x2="435.42" y2="178.59" stroke="#E18727" stroke-width="0.8" stroke-opacity="1.0"/>
<line x1="435.9" y1="175.5" x2="435.9" y2="179.14" stroke="#E18727" stroke-width="0.8" stroke-opacity="1.0"/>
<line x1="436.28" y1="175.5" x2="436.28" y2="180.94" stroke="#E18727" stroke-width="0.8" stroke-opacity="1.0"/>
<line x1="436.8" y1="175.5" x2="436.8" y2="178.36" stroke="#E18727" stroke-width="0.8" stroke-opacity="1.0"/>
<line x1="437.28" y1="175.5" x2="437.28" y2="179.47" stroke="#E18727" stroke-width="0.8" stroke-opacity="1.0"/>
<line x1="437.87" y1="175.5" x2="437.87" y2="180.56" stroke="#E18727" stroke-width="0.8" stroke-opacity="1.0"/>
<line x1="438.24" y1="175.5" x2="438.24" y2="182.16" stroke="#E18727" stroke-width="0.8" stroke-opacity="1.0"/>
<line x1="438.55" y1="175.5" x2="438.55" y2="178.99" stroke="#E18727" stroke-width="0.8" stroke-opacity="1.0"/>
<line x1="439.09" y1="175.5" x2="439.09" y2="178.12" stroke="#E18727" stroke-width="0.8" stroke-opacity="1.0"/>
<line x1="439.54" y1="175.5" x2="439.54" y2="177.92" stroke="#E18727" stroke-width="0.8" stroke-opacity="1.0"/>
<line x1="440.05" y1="175.5" x2="440.05" y2="180.76" stroke="#E18727" stroke-width="0.8" stroke-opacity="1.0"/>
<line x1="440.53" y1="175.5" x2="440.53" y2="181.46" stroke="#E18727" stroke-width="0.8" stroke-opacity="1.0"/>
<line x1="440.91" y1="175.5" x2="440.91" y2="180.36" stroke="#E18727" stroke-width="0.8" stroke-opacity="1.0"/>
<line x1="441.39" y1="175.5" x2="441.39" y2="179.74" stroke="#E18727" stroke-width="0.8" stroke-opacity="1.0"/>
<line x1="441.83" y1="175.5" x2="441.83" y2="181.23" stroke="#E18727" stroke-width="0.8" stroke-opacity="1.0"/>
<line x1="442.44" y1="175.5" x2="442.44" y2="179.23" stroke="#E18727" stroke-width="0.8" stroke-opacity="1.0"/>
<line x1="442.95" y1="175.5" x2="442.95" y2="177.95" stroke="#E18727" stroke-width="0.8" stroke-opacity="1.0"/>
<line x1="443.47" y1="175.5" x2="443.47" y2="180.09" stroke="#E18727" stroke-width="0.8" stroke-opacity="1.0"/>
<line x1="444.1" y1="175.5" x2="444.1" y2="181.12" stroke="#E18727" stroke-width="0.8" stroke-opacity="1.0"/>
<line x1="444.47" y1="175.5" x2="444.47" y2="178.86" stroke="#E18727" stroke-width="0.8" stroke-opacity="1.0"/>
<line x1="444.98" y1="175.5" x2="444.98" y2="177.91" stroke="#E18727" stroke-width="0.8" stroke-opacity="1.0"/>
<line x1="445.42" y1="175.5" x2="445.42" y2="178.15" stroke="#E18727" stroke-width="0.8" stroke-opacity="1.0"/>
<line x1="445.73" y1="175.5" x2="445.73" y2="177.95" stroke="#E18727" stroke-width="0.8" stroke-opacity="1.0"/>
<line x1="446.28" y1="175.5" x2="446.28" y2="178.07" stroke="#E18727" stroke-width="0.8" stroke-opacity="1.0"/>
<line x1="446.63" y1="175.5" x2="446.63" y2="178.88" stroke="#E18727" stroke-width="0.8" stroke-opacity="1.0"/>
<line x1="447.22" y1="175.5" x2="447.22" y2="177.98" stroke="#E18727" stroke-width="0.8" stroke-opacity="1.0"/>
<line x1="447.65" y1="175.5" x2="447.65" y2="179.59" stroke="#E18727" stroke-width="0.8" stroke-opacity="1.0"/>
<line x1="448.24" y1="175.5" x2="448.24" y2="181.1" stroke="#E18727" stroke-width="0.8" stroke-opacity="1.0"/>
<line x1="448.82" y1="175.5" x2="448.82" y2="178.47" stroke="#E18727" stroke-width="0.8" stroke-opacity="1.0"/>
<line x1="449.24" y1="175.5" x2="449.24" y2="178.75" stroke="#E18727" stroke-width="0.8" stroke-opacity="1.0"/>
<line x1="449.83" y1="175.5" x2="449.83" y2="182.01" stroke="#E18727" stroke-width="0.8" stroke-opacity="1.0"/>
<line x1="450.15" y1="175.5" x2="450.15" y2="178.17" stroke="#E18727" stroke-width="0.8" stroke-opacity="1.0"/>
<line x1="450.5" y1="175.5" x2="450.5" y2="178.33" stroke="#E18727" stroke-width="0.8" stroke-opacity="1.0"/>
<line x1="450.95" y1="175.5" x2="450.95" y2="179.79" stroke="#E18727" stroke-width="0.8" stroke-opacity="1.0"/>
<line x1="451.31" y1="175.5" x2="451.31" y2="177.9" stroke="#E18727" stroke-width="0.8" stroke-opacity="1.0"/>
<line x1="451.73" y1="175.5" x2="451.73" y2="178.79" stroke="#E18727" stroke-width="0.8" stroke-opacity="1.0"/>
<line x1="452.21" y1="175.5" x2="452.21" y2="181.97" stroke="#E18727" stroke-width="0.8" stroke-opacity="1.0"/>
<line x1="452.73" y1="175.5" x2="452.73" y2="179.42" stroke="#E18727" stroke-width="0.8" stroke-opacity="1.0"/>
<line x1="453.22" y1="175.5" x2="453.22" y2="180.25" stroke="#E18727" stroke-width="0.8" stroke-opacity="1.0"/>
<line x1="453.51" y1="175.5" x2="453.51" y2="181.61" stroke="#E18727" stroke-width="0.8" stroke-opacity="1.0"/>
<line x1="454.06" y1="175.5" x2="454.06" y2="181.45" stroke="#E18727" stroke-width="0.8" stroke-opacity="1.0"/>
<line x1="454.62" y1="175.5" x2="454.62" y2="178.88" stroke="#E18727" stroke-width="0.8" stroke-opacity="1.0"/>
<line x1="455.03" y1="175.5" x2="455.03" y2="178.02" stroke="#E18727" stroke-width="0.8" stroke-opacity="1.0"/>
<line x1="455.53" y1="175.5" x2="455.53" y2="177.95" stroke="#E18727" stroke-width="0.8" stroke-opacity="1.0"/>
<line x1="455.82" y1="175.5" x2="455.82" y2="178.26" stroke="#E18727" stroke-width="0.8" stroke-opacity="1.0"/>
<line x1="456.15" y1="175.5" x2="456.15" y2="178.68" stroke="#E18727" stroke-width="0.8" stroke-opacity="1.0"/>
<line x1="456.44" y1="175.5" x2="456.44" y2="177.9" stroke="#E18727" stroke-width="0.8" stroke-opacity="1.0"/>
<line x1="456.77" y1="175.5" x2="456.77" y2="178.01" stroke="#E18727" stroke-width="0.8" stroke-opacity="1.0"/>
<line x1="457.17" y1="175.5" x2="457.17" y2="177.91" stroke="#E18727" stroke-width="0.8" stroke-opacity="1.0"/>
<line x1="457.75" y1="175.5" x2="457.75" y2="179.92" stroke="#E18727" stroke-width="0.8" stroke-opacity="1.0"/>
<line x1="458.07" y1="175.5" x2="458.07" y2="178.39" stroke="#E18727" stroke-width="0.8" stroke-opacity="1.0"/>
<line x1="458.47" y1="175.5" x2="458.47" y2="178.77" stroke="#E18727" stroke-width="0.8" stroke-opacity="1.0"/>
<line x1="458.78" y1="175.5" x2="458.78" y2="181.29" stroke="#E18727" stroke-width="0.8" stroke-opacity="1.0"/>
<line x1="459.41" y1="175.5" x2="459.41" y2="179.2" stroke="#E18727" stroke-width="0.8" stroke-opacity="1.0"/>
<line x1="459.86" y1="175.5" x2="459.86" y2="177.99" stroke="#E18727" stroke-width="0.8" stroke-opacity="1.0"/>
<line x1="460.16" y1="175.5" x2="460.16" y2="178.69" stroke="#E18727" stroke-width="0.8" stroke-opacity="1.0"/>
<line x1="460.53" y1="175.5" x2="460.53" y2="181.16" stroke="#E18727" stroke-width="0.8" stroke-opacity="1.0"/>
<line x1="460.86" y1="175.5" x2="460.86" y2="177.91" stroke="#E18727" stroke-width="0.8" stroke-opacity="1.0"/>
<line x1="461.47" y1="175.5" x2="461.47" y2="179.48" stroke="#E18727" stroke-width="0.8" stroke-opacity="1.0"/>
<line x1="461.79" y1="175.5" x2="461.79" y2="179.56" stroke="#E18727" stroke-width="0.8" stroke-opacity="1.0"/>
<line x1="462.07" y1="175.5" x2="462.07" y2="179.48" stroke="#E18727" stroke-width="0.8" stroke-opacity="1.0"/>
<line x1="462.69" y1="175.5" x2="462.69" y2="181.38" stroke="#E18727" stroke-width="0.8" stroke-opacity="1.0"/>
<line x1="463.21" y1="175.5" x2="463.21" y2="178.41" stroke="#E18727" stroke-width="0.8" stroke-opacity="1.0"/>
<line x1="463.62" y1="175.5" x2="463.62" y2="178.15" stroke="#E18727" stroke-width="0.8" stroke-opacity="1.0"/>
<line x1="464.16" y1="175.5" x2="464.16" y2="179.51" stroke="#E18727" stroke-width="0.8" stroke-opacity="1.0"/>
<line x1="464.71" y1="175.5" x2="464.71" y2="178.65" stroke="#E18727" stroke-width="0.8" stroke-opacity="1.0"/>
<line x1="465.06" y1="175.5" x2="465.06" y2="181.05" stroke="#E18727" stroke-width="0.8" stroke-opacity="1.0"/>
<line x1="465.69" y1="175.5" x2="465.69" y2="181.31" stroke="#E18727" stroke-width="0.8" stroke-opacity="1.0"/>
<line x1="466.25" y1="175.5" x2="466.25" y2="181.09" stroke="#E18727" stroke-width="0.8" stroke-opacity="1.0"/>
<line x1="466.79" y1="175.5" x2="466.79" y2="178.31" stroke="#E18727" stroke-width="0.8" stroke-opacity="1.0"/>
<line x1="467.24" y1="175.5" x2="467.24" y2="178.74" stroke="#E18727" stroke-width="0.8" stroke-opacity="1.0"/>
<line x1="467.52" y1="175.5" x2="467.52" y2="177.91" stroke="#E18727" stroke-width="0.8" stroke-opacity="1.0"/>
<line x1="467.89" y1="175.5" x2="467.89" y2="178.41" stroke="#E18727" stroke-width="0.8" stroke-opacity="1.0"/>
<line x1="468.41" y1="175.5" x2="468.41" y2="182" stroke="#E18727" stroke-width="0.8" stroke-opacity="1.0"/>
<line x1="466" y1="175.5" x2="466" y2="181.87" stroke="#BC3C29" stroke-width="0.8" stroke-opacity="1.0"/>
<line x1="466.63" y1="175.5" x2="466.63" y2="181.99" stroke="#BC3C29" stroke-width="0.8" stroke-opacity="1.0"/>
<line x1="467.03" y1="175.5" x2="467.03" y2="178.29" stroke="#BC3C29" stroke-width="0.8" stroke-opacity="1.0"/>
<line x1="467.38" y1="175.5" x2="467.38" y2="178.23" stroke="#BC3C29" stroke-width="0.8" stroke-opacity="1.0"/>
<line x1="467.72" y1="175.5" x2="467.72" y2="179.97" stroke="#BC3C29" stroke-width="0.8" stroke-opacity="1.0"/>
<line x1="468.32" y1="175.5" x2="468.32" y2="181.23" stroke="#BC3C29" stroke-width="0.8" stroke-opacity="1.0"/>
<line x1="468.76" y1="175.5" x2="468.76" y2="180.12" stroke="#BC3C29" stroke-width="0.8" stroke-opacity="1.0"/>
<line x1="469.32" y1="175.5" x2="469.32" y2="177.98" stroke="#BC3C29" stroke-width="0.8" stroke-opacity="1.0"/>
<line x1="469.82" y1="175.5" x2="469.82" y2="181.68" stroke="#BC3C29" stroke-width="0.8" stroke-opacity="1.0"/>
<line x1="470.38" y1="175.5" x2="470.38" y2="180.68" stroke="#BC3C29" stroke-width="0.8" stroke-opacity="1.0"/>
<line x1="470.82" y1="175.5" x2="470.82" y2="178.18" stroke="#BC3C29" stroke-width="0.8" stroke-opacity="1.0"/>
<line x1="471.37" y1="175.5" x2="471.37" y2="178.66" stroke="#BC3C29" stroke-width="0.8" stroke-opacity="1.0"/>
<line x1="471.93" y1="175.5" x2="471.93" y2="182.1" stroke="#BC3C29" stroke-width="0.8" stroke-opacity="1.0"/>
<line x1="472.34" y1="175.5" x2="472.34" y2="178.92" stroke="#BC3C29" stroke-width="0.8" stroke-opacity="1.0"/>
<line x1="472.95" y1="175.5" x2="472.95" y2="180.53" stroke="#BC3C29" stroke-width="0.8" stroke-opacity="1.0"/>
<line x1="473.29" y1="175.5" x2="473.29" y2="178.06" stroke="#BC3C29" stroke-width="0.8" stroke-opacity="1.0"/>
<line x1="473.61" y1="175.5" x2="473.61" y2="181.65" stroke="#BC3C29" stroke-width="0.8" stroke-opacity="1.0"/>
<line x1="474.17" y1="175.5" x2="474.17" y2="178.1" stroke="#BC3C29" stroke-width="0.8" stroke-opacity="1.0"/>
<line x1="474.74" y1="175.5" x2="474.74" y2="182.16" stroke="#BC3C29" stroke-width="0.8" stroke-opacity="1.0"/>
<line x1="475.24" y1="175.5" x2="475.24" y2="178.72" stroke="#BC3C29" stroke-width="0.8" stroke-opacity="1.0"/>
<line x1="475.71" y1="175.5" x2="475.71" y2="178.07" stroke="#BC3C29" stroke-width="0.8" stroke-opacity="1.0"/>
<line x1="475.99" y1="175.5" x2="475.99" y2="182.1" stroke="#BC3C29" stroke-width="0.8" stroke-opacity="1.0"/>
<line x1="476.49" y1="175.5" x2="476.49" y2="179.48" stroke="#BC3C29" stroke-width="0.8" stroke-opacity="1.0"/>
<line x1="477.1" y1="175.5" x2="477.1" y2="179.06" stroke="#BC3C29" stroke-width="0.8" stroke-opacity="1.0"/>
<line x1="477.68" y1="175.5" x2="477.68" y2="181.14" stroke="#BC3C29" stroke-width="0.8" stroke-opacity="1.0"/>
<line x1="478.03" y1="175.5" x2="478.03" y2="178.38" stroke="#BC3C29" stroke-width="0.8" stroke-opacity="1.0"/>
<line x1="478.4" y1="175.5" x2="478.4" y2="178.35" stroke="#BC3C29" stroke-width="0.8" stroke-opacity="1.0"/>
<line x1="478.88" y1="175.5" x2="478.88" y2="178.41" stroke="#BC3C29" stroke-width="0.8" stroke-opacity="1.0"/>
<line x1="479.3" y1="175.5" x2="479.3" y2="178.07" stroke="#BC3C29" stroke-width="0.8" stroke-opacity="1.0"/>
<line x1="479.9" y1="175.5" x2="479.9" y2="178.73" stroke="#BC3C29" stroke-width="0.8" stroke-opacity="1.0"/>
<line x1="480.34" y1="175.5" x2="480.34" y2="179.76" stroke="#BC3C29" stroke-width="0.8" stroke-opacity="1.0"/>
<line x1="480.93" y1="175.5" x2="480.93" y2="179" stroke="#BC3C29" stroke-width="0.8" stroke-opacity="1.0"/>
<line x1="481.53" y1="175.5" x2="481.53" y2="179.36" stroke="#BC3C29" stroke-width="0.8" stroke-opacity="1.0"/>
<line x1="481.99" y1="175.5" x2="481.99" y2="179.46" stroke="#BC3C29" stroke-width="0.8" stroke-opacity="1.0"/>
<line x1="482.27" y1="175.5" x2="482.27" y2="179.08" stroke="#BC3C29" stroke-width="0.8" stroke-opacity="1.0"/>
<line x1="482.61" y1="175.5" x2="482.61" y2="177.9" stroke="#BC3C29" stroke-width="0.8" stroke-opacity="1.0"/>
<line x1="483.16" y1="175.5" x2="483.16" y2="178.16" stroke="#BC3C29" stroke-width="0.8" stroke-opacity="1.0"/>
<line x1="483.6" y1="175.5" x2="483.6" y2="180.53" stroke="#BC3C29" stroke-width="0.8" stroke-opacity="1.0"/>
<line x1="484.08" y1="175.5" x2="484.08" y2="178.63" stroke="#BC3C29" stroke-width="0.8" stroke-opacity="1.0"/>
<line x1="484.53" y1="175.5" x2="484.53" y2="179.62" stroke="#BC3C29" stroke-width="0.8" stroke-opacity="1.0"/>
<line x1="485.08" y1="175.5" x2="485.08" y2="178.02" stroke="#BC3C29" stroke-width="0.8" stroke-opacity="1.0"/>
<line x1="485.56" y1="175.5" x2="485.56" y2="178.37" stroke="#BC3C29" stroke-width="0.8" stroke-opacity="1.0"/>
<line x1="485.93" y1="175.5" x2="485.93" y2="180.81" stroke="#BC3C29" stroke-width="0.8" stroke-opacity="1.0"/>
<line x1="486.38" y1="175.5" x2="486.38" y2="179.65" stroke="#BC3C29" stroke-width="0.8" stroke-opacity="1.0"/>
<line x1="486.92" y1="175.5" x2="486.92" y2="181.7" stroke="#BC3C29" stroke-width="0.8" stroke-opacity="1.0"/>
<line x1="487.35" y1="175.5" x2="487.35" y2="179.91" stroke="#BC3C29" stroke-width="0.8" stroke-opacity="1.0"/>
<line x1="487.8" y1="175.5" x2="487.8" y2="179.41" stroke="#BC3C29" stroke-width="0.8" stroke-opacity="1.0"/>
<line x1="488.32" y1="175.5" x2="488.32" y2="179.14" stroke="#BC3C29" stroke-width="0.8" stroke-opacity="1.0"/>
<line x1="488.78" y1="175.5" x2="488.78" y2="179.25" stroke="#BC3C29" stroke-width="0.8" stroke-opacity="1.0"/>
<line x1="489.39" y1="175.5" x2="489.39" y2="180.38" stroke="#BC3C29" stroke-width="0.8" stroke-opacity="1.0"/>
<line x1="489.98" y1="175.5" x2="489.98" y2="181.9" stroke="#BC3C29" stroke-width="0.8" stroke-opacity="1.0"/>
<line x1="490.34" y1="175.5" x2="490.34" y2="179.64" stroke="#BC3C29" stroke-width="0.8" stroke-opacity="1.0"/>
<line x1="466" y1="175.5" x2="466" y2="179.39" stroke="#E18727" stroke-width="0.8" stroke-opacity="1.0"/>
<line x1="467.14" y1="175.5" x2="467.14" y2="177.59" stroke="#E18727" stroke-width="0.8" stroke-opacity="1.0"/>
<line x1="468.66" y1="175.5" x2="468.66" y2="177.54" stroke="#E18727" stroke-width="0.8" stroke-opacity="1.0"/>
<line x1="469.93" y1="175.5" x2="469.93" y2="177.54" stroke="#E18727" stroke-width="0.8" stroke-opacity="1.0"/>
<line x1="471.75" y1="175.5" x2="471.75" y2="179.19" stroke="#E18727" stroke-width="0.8" stroke-opacity="1.0"/>
<line x1="473.85" y1="175.5" x2="473.85" y2="177.63" stroke="#E18727" stroke-width="0.8" stroke-opacity="1.0"/>
<line x1="475.73" y1="175.5" x2="475.73" y2="178.79" stroke="#E18727" stroke-width="0.8" stroke-opacity="1.0"/>
<line x1="476.87" y1="175.5" x2="476.87" y2="179.55" stroke="#E18727" stroke-width="0.8" stroke-opacity="1.0"/>
<line x1="479.07" y1="175.5" x2="479.07" y2="177.72" stroke="#E18727" stroke-width="0.8" stroke-opacity="1.0"/>
<line x1="490.5" y1="175.5" x2="490.5" y2="179.29" stroke="#0072B5" stroke-width="0.8" stroke-opacity="1.0"/>
<line x1="490.9" y1="175.5" x2="490.9" y2="183.22" stroke="#0072B5" stroke-width="0.8" stroke-opacity="1.0"/>
<line x1="491.4" y1="175.5" x2="491.4" y2="178.38" stroke="#0072B5" stroke-width="0.8" stroke-opacity="1.0"/>
<line x1="491.78" y1="175.5" x2="491.78" y2="179.9" stroke="#0072B5" stroke-width="0.8" stroke-opacity="1.0"/>
<line x1="492.13" y1="175.5" x2="492.13" y2="178.48" stroke="#0072B5" stroke-width="0.8" stroke-opacity="1.0"/>
<line x1="492.47" y1="175.5" x2="492.47" y2="181.19" stroke="#0072B5" stroke-width="0.8" stroke-opacity="1.0"/>
<line x1="492.72" y1="175.5" x2="492.72" y2="180.12" stroke="#0072B5" stroke-width="0.8" stroke-opacity="1.0"/>
<line x1="493.1" y1="175.5" x2="493.1" y2="178.11" stroke="#0072B5" stroke-width="0.8" stroke-opacity="1.0"/>
<line x1="493.44" y1="175.5" x2="493.44" y2="180.54" stroke="#0072B5" stroke-width="0.8" stroke-opacity="1.0"/>
<line x1="493.85" y1="175.5" x2="493.85" y2="178.16" stroke="#0072B5" stroke-width="0.8" stroke-opacity="1.0"/>
<line x1="494.4" y1="175.5" x2="494.4" y2="181.65" stroke="#0072B5" stroke-width="0.8" stroke-opacity="1.0"/>
<line x1="494.95" y1="175.5" x2="494.95" y2="178.24" stroke="#0072B5" stroke-width="0.8" stroke-opacity="1.0"/>
<line x1="495.28" y1="175.5" x2="495.28" y2="178.13" stroke="#0072B5" stroke-width="0.8" stroke-opacity="1.0"/>
<line x1="495.77" y1="175.5" x2="495.77" y2="178.74" stroke="#0072B5" stroke-width="0.8" stroke-opacity="1.0"/>
<line x1="496.05" y1="175.5" x2="496.05" y2="179.41" stroke="#0072B5" stroke-width="0.8" stroke-opacity="1.0"/>
<line x1="496.58" y1="175.5" x2="496.58" y2="181.88" stroke="#0072B5" stroke-width="0.8" stroke-opacity="1.0"/>
<line x1="496.9" y1="175.5" x2="496.9" y2="178.35" stroke="#0072B5" stroke-width="0.8" stroke-opacity="1.0"/>
<line x1="497.44" y1="175.5" x2="497.44" y2="180.22" stroke="#0072B5" stroke-width="0.8" stroke-opacity="1.0"/>
<line x1="497.9" y1="175.5" x2="497.9" y2="178.21" stroke="#0072B5" stroke-width="0.8" stroke-opacity="1.0"/>
<line x1="498.16" y1="175.5" x2="498.16" y2="180.96" stroke="#0072B5" stroke-width="0.8" stroke-opacity="1.0"/>
<line x1="498.54" y1="175.5" x2="498.54" y2="178.18" stroke="#0072B5" stroke-width="0.8" stroke-opacity="1.0"/>
<line x1="499.08" y1="175.5" x2="499.08" y2="180.61" stroke="#0072B5" stroke-width="0.8" stroke-opacity="1.0"/>
<line x1="499.57" y1="175.5" x2="499.57" y2="178.2" stroke="#0072B5" stroke-width="0.8" stroke-opacity="1.0"/>
<line x1="500.09" y1="175.5" x2="500.09" y2="178.17" stroke="#0072B5" stroke-width="0.8" stroke-opacity="1.0"/>
<line x1="500.6" y1="175.5" x2="500.6" y2="179.57" stroke="#0072B5" stroke-width="0.8" stroke-opacity="1.0"/>
<line x1="500.95" y1="175.5" x2="500.95" y2="180.12" stroke="#0072B5" stroke-width="0.8" stroke-opacity="1.0"/>
<line x1="501.49" y1="175.5" x2="501.49" y2="178.73" stroke="#0072B5" stroke-width="0.8" stroke-opacity="1.0"/>
<line x1="501.77" y1="175.5" x2="501.77" y2="179.97" stroke="#0072B5" stroke-width="0.8" stroke-opacity="1.0"/>
<line x1="502.09" y1="175.5" x2="502.09" y2="178.25" stroke="#0072B5" stroke-width="0.8" stroke-opacity="1.0"/>
<line x1="502.38" y1="175.5" x2="502.38" y2="178.14" stroke="#0072B5" stroke-width="0.8" stroke-opacity="1.0"/>
<line x1="502.68" y1="175.5" x2="502.68" y2="178.91" stroke="#0072B5" stroke-width="0.8" stroke-opacity="1.0"/>
<line x1="503.02" y1="175.5" x2="503.02" y2="181.45" stroke="#0072B5" stroke-width="0.8" stroke-opacity="1.0"/>
<line x1="503.35" y1="175.5" x2="503.35" y2="179.82" stroke="#0072B5" stroke-width="0.8" stroke-opacity="1.0"/>
<line x1="503.65" y1="175.5" x2="503.65" y2="179.06" stroke="#0072B5" stroke-width="0.8" stroke-opacity="1.0"/>
<line x1="503.9" y1="175.5" x2="503.9" y2="178.67" stroke="#0072B5" stroke-width="0.8" stroke-opacity="1.0"/>
<line x1="504.14" y1="175.5" x2="504.14" y2="181.26" stroke="#0072B5" stroke-width="0.8" stroke-opacity="1.0"/>
<line x1="429.5" y1="249" x2="429.5" y2="279.1" stroke="#E18727" stroke-width="0.75" />
<line x1="428.3" y1="249" x2="430.7" y2="249" stroke="#E18727" stroke-width="0.75" />
<line x1="428.3" y1="279.1" x2="430.7" y2="279.1" stroke="#E18727" stroke-width="0.75" />
<line x1="440.1" y1="212.4" x2="440.1" y2="236.5" stroke="#E18727" stroke-width="0.75" />
<line x1="438.9" y1="212.4" x2="441.3" y2="212.4" stroke="#E18727" stroke-width="0.75" />
<line x1="438.9" y1="236.5" x2="441.3" y2="236.5" stroke="#E18727" stroke-width="0.75" />
<line x1="447.7" y1="228.3" x2="447.7" y2="266.4" stroke="#E18727" stroke-width="0.75" />
<line x1="446.5" y1="228.3" x2="448.9" y2="228.3" stroke="#E18727" stroke-width="0.75" />
<line x1="446.5" y1="266.4" x2="448.9" y2="266.4" stroke="#E18727" stroke-width="0.75" />
<line x1="456.3" y1="220.3" x2="456.3" y2="261.5" stroke="#E18727" stroke-width="0.75" />
<line x1="455.1" y1="220.3" x2="457.5" y2="220.3" stroke="#E18727" stroke-width="0.75" />
<line x1="455.1" y1="261.5" x2="457.5" y2="261.5" stroke="#E18727" stroke-width="0.75" />
<line x1="464" y1="207.3" x2="464" y2="247.8" stroke="#E18727" stroke-width="0.75" />
<line x1="462.8" y1="207.3" x2="465.2" y2="207.3" stroke="#E18727" stroke-width="0.75" />
<line x1="462.8" y1="247.8" x2="465.2" y2="247.8" stroke="#E18727" stroke-width="0.75" />
<line x1="474.3" y1="202.5" x2="474.3" y2="234.9" stroke="#E18727" stroke-width="0.75" />
<line x1="473.1" y1="202.5" x2="475.5" y2="202.5" stroke="#E18727" stroke-width="0.75" />
<line x1="473.1" y1="234.9" x2="475.5" y2="234.9" stroke="#E18727" stroke-width="0.75" />
<polyline points="429.5,272.8 440.1,226.5 447.7,253.7 456.3,246.2 464,232.5 474.3,220.8" fill="none" stroke="#E18727" stroke-width="0.8" stroke-linejoin="round" />
<circle cx="429.5" cy="272.8" r="0.9" fill="#E18727"/>
<line x1="428.4" y1="266.6" x2="430.6" y2="268.8" stroke="#2b4c9c" stroke-width="0.9" />
<line x1="428.4" y1="268.8" x2="430.6" y2="266.6" stroke="#2b4c9c" stroke-width="0.9" />
<circle cx="440.1" cy="226.5" r="0.9" fill="#E18727"/>
<line x1="439" y1="223.3" x2="441.2" y2="225.5" stroke="#2b4c9c" stroke-width="0.9" />
<line x1="439" y1="225.5" x2="441.2" y2="223.3" stroke="#2b4c9c" stroke-width="0.9" />
<circle cx="447.7" cy="253.7" r="0.9" fill="#E18727"/>
<line x1="446.6" y1="252.6" x2="448.8" y2="254.8" stroke="#2b4c9c" stroke-width="0.9" />
<line x1="446.6" y1="254.8" x2="448.8" y2="252.6" stroke="#2b4c9c" stroke-width="0.9" />
<circle cx="456.3" cy="246.2" r="0.9" fill="#E18727"/>
<line x1="455.2" y1="245.1" x2="457.4" y2="247.3" stroke="#2b4c9c" stroke-width="0.9" />
<line x1="455.2" y1="247.3" x2="457.4" y2="245.1" stroke="#2b4c9c" stroke-width="0.9" />
<circle cx="464" cy="232.5" r="0.9" fill="#E18727"/>
<line x1="462.9" y1="231.4" x2="465.1" y2="233.6" stroke="#2b4c9c" stroke-width="0.9" />
<line x1="462.9" y1="233.6" x2="465.1" y2="231.4" stroke="#2b4c9c" stroke-width="0.9" />
<circle cx="474.3" cy="220.8" r="0.9" fill="#E18727"/>
<line x1="473.2" y1="223.2" x2="475.4" y2="225.4" stroke="#2b4c9c" stroke-width="0.9" />
<line x1="473.2" y1="225.4" x2="475.4" y2="223.2" stroke="#2b4c9c" stroke-width="0.9" />
<line x1="452.1" y1="229.3" x2="452.1" y2="259.5" stroke="#BC3C29" stroke-width="0.75" />
<line x1="450.9" y1="229.3" x2="453.3" y2="229.3" stroke="#BC3C29" stroke-width="0.75" />
<line x1="450.9" y1="259.5" x2="453.3" y2="259.5" stroke="#BC3C29" stroke-width="0.75" />
<line x1="463.5" y1="208.3" x2="463.5" y2="236" stroke="#BC3C29" stroke-width="0.75" />
<line x1="462.3" y1="208.3" x2="464.7" y2="208.3" stroke="#BC3C29" stroke-width="0.75" />
<line x1="462.3" y1="236" x2="464.7" y2="236" stroke="#BC3C29" stroke-width="0.75" />
<line x1="469.9" y1="206.4" x2="469.9" y2="232.8" stroke="#BC3C29" stroke-width="0.75" />
<line x1="468.7" y1="206.4" x2="471.1" y2="206.4" stroke="#BC3C29" stroke-width="0.75" />
<line x1="468.7" y1="232.8" x2="471.1" y2="232.8" stroke="#BC3C29" stroke-width="0.75" />
<line x1="476.9" y1="201.5" x2="476.9" y2="229.4" stroke="#BC3C29" stroke-width="0.75" />
<line x1="475.7" y1="201.5" x2="478.1" y2="201.5" stroke="#BC3C29" stroke-width="0.75" />
<line x1="475.7" y1="229.4" x2="478.1" y2="229.4" stroke="#BC3C29" stroke-width="0.75" />
<line x1="482.6" y1="189.1" x2="482.6" y2="209.2" stroke="#BC3C29" stroke-width="0.75" />
<line x1="481.4" y1="189.1" x2="483.8" y2="189.1" stroke="#BC3C29" stroke-width="0.75" />
<line x1="481.4" y1="209.2" x2="483.8" y2="209.2" stroke="#BC3C29" stroke-width="0.75" />
<line x1="488.9" y1="189.4" x2="488.9" y2="210.5" stroke="#BC3C29" stroke-width="0.75" />
<line x1="487.7" y1="189.4" x2="490.1" y2="189.4" stroke="#BC3C29" stroke-width="0.75" />
<line x1="487.7" y1="210.5" x2="490.1" y2="210.5" stroke="#BC3C29" stroke-width="0.75" />
<polyline points="452.1,247.4 463.5,221 469.9,221.6 476.9,217.5 482.6,201.6 488.9,201" fill="none" stroke="#BC3C29" stroke-width="0.8" stroke-linejoin="round" />
<circle cx="452.1" cy="247.4" r="0.9" fill="#BC3C29"/>
<line x1="451" y1="242.1" x2="453.2" y2="244.3" stroke="#2b4c9c" stroke-width="0.9" />
<line x1="451" y1="244.3" x2="453.2" y2="242.1" stroke="#2b4c9c" stroke-width="0.9" />
<circle cx="463.5" cy="221" r="0.9" fill="#BC3C29"/>
<line x1="462.4" y1="219.9" x2="464.6" y2="222.1" stroke="#2b4c9c" stroke-width="0.9" />
<line x1="462.4" y1="222.1" x2="464.6" y2="219.9" stroke="#2b4c9c" stroke-width="0.9" />
<circle cx="469.9" cy="221.6" r="0.9" fill="#BC3C29"/>
<line x1="468.8" y1="220.7" x2="471" y2="222.9" stroke="#2b4c9c" stroke-width="0.9" />
<line x1="468.8" y1="222.9" x2="471" y2="220.7" stroke="#2b4c9c" stroke-width="0.9" />
<circle cx="476.9" cy="217.5" r="0.9" fill="#BC3C29"/>
<line x1="475.8" y1="216.7" x2="478" y2="218.9" stroke="#2b4c9c" stroke-width="0.9" />
<line x1="475.8" y1="218.9" x2="478" y2="216.7" stroke="#2b4c9c" stroke-width="0.9" />
<circle cx="482.6" cy="201.6" r="0.9" fill="#BC3C29"/>
<line x1="481.5" y1="203.8" x2="483.7" y2="206" stroke="#2b4c9c" stroke-width="0.9" />
<line x1="481.5" y1="206" x2="483.7" y2="203.8" stroke="#2b4c9c" stroke-width="0.9" />
<circle cx="488.9" cy="201" r="0.9" fill="#BC3C29"/>
<line x1="487.8" y1="201.8" x2="490" y2="204" stroke="#2b4c9c" stroke-width="0.9" />
<line x1="487.8" y1="204" x2="490" y2="201.8" stroke="#2b4c9c" stroke-width="0.9" />
<line x1="488" y1="198.4" x2="488" y2="215" stroke="#0072B5" stroke-width="0.75" />
<line x1="486.8" y1="198.4" x2="489.2" y2="198.4" stroke="#0072B5" stroke-width="0.75" />
<line x1="486.8" y1="215" x2="489.2" y2="215" stroke="#0072B5" stroke-width="0.75" />
<line x1="493.1" y1="185" x2="493.1" y2="201" stroke="#0072B5" stroke-width="0.75" />
<line x1="491.9" y1="185" x2="494.3" y2="185" stroke="#0072B5" stroke-width="0.75" />
<line x1="491.9" y1="201" x2="494.3" y2="201" stroke="#0072B5" stroke-width="0.75" />
<line x1="495.4" y1="187.2" x2="495.4" y2="202.4" stroke="#0072B5" stroke-width="0.75" />
<line x1="494.2" y1="187.2" x2="496.6" y2="187.2" stroke="#0072B5" stroke-width="0.75" />
<line x1="494.2" y1="202.4" x2="496.6" y2="202.4" stroke="#0072B5" stroke-width="0.75" />
<line x1="497.9" y1="186.5" x2="497.9" y2="196.5" stroke="#0072B5" stroke-width="0.75" />
<line x1="496.7" y1="186.5" x2="499.1" y2="186.5" stroke="#0072B5" stroke-width="0.75" />
<line x1="496.7" y1="196.5" x2="499.1" y2="196.5" stroke="#0072B5" stroke-width="0.75" />
<line x1="500.5" y1="181.3" x2="500.5" y2="190.5" stroke="#0072B5" stroke-width="0.75" />
<line x1="499.3" y1="181.3" x2="501.7" y2="181.3" stroke="#0072B5" stroke-width="0.75" />
<line x1="499.3" y1="190.5" x2="501.7" y2="190.5" stroke="#0072B5" stroke-width="0.75" />
<line x1="501.9" y1="180" x2="501.9" y2="187.2" stroke="#0072B5" stroke-width="0.75" />
<line x1="500.7" y1="180" x2="503.1" y2="180" stroke="#0072B5" stroke-width="0.75" />
<line x1="500.7" y1="187.2" x2="503.1" y2="187.2" stroke="#0072B5" stroke-width="0.75" />
<line x1="503.5" y1="179.5" x2="503.5" y2="184.5" stroke="#0072B5" stroke-width="0.75" />
<line x1="502.3" y1="179.5" x2="504.7" y2="179.5" stroke="#0072B5" stroke-width="0.75" />
<line x1="502.3" y1="184.5" x2="504.7" y2="184.5" stroke="#0072B5" stroke-width="0.75" />
<polyline points="488,207.8 493.1,193 495.4,195.5 497.9,191.4 500.5,185.6 501.9,183.2 503.5,181.5" fill="none" stroke="#0072B5" stroke-width="0.8" stroke-linejoin="round" />
<circle cx="488" cy="207.8" r="1.3" fill="#0072B5"/>
<line x1="486.9" y1="206.7" x2="489.1" y2="208.9" stroke="#2b4c9c" stroke-width="0.9" />
<line x1="486.9" y1="208.9" x2="489.1" y2="206.7" stroke="#2b4c9c" stroke-width="0.9" />
<circle cx="493.1" cy="193" r="1.3" fill="#0072B5"/>
<line x1="492" y1="191.9" x2="494.2" y2="194.1" stroke="#2b4c9c" stroke-width="0.9" />
<line x1="492" y1="194.1" x2="494.2" y2="191.9" stroke="#2b4c9c" stroke-width="0.9" />
<circle cx="495.4" cy="195.5" r="1.3" fill="#0072B5"/>
<line x1="494.3" y1="194.4" x2="496.5" y2="196.6" stroke="#2b4c9c" stroke-width="0.9" />
<line x1="494.3" y1="196.6" x2="496.5" y2="194.4" stroke="#2b4c9c" stroke-width="0.9" />
<circle cx="497.9" cy="191.4" r="1.3" fill="#0072B5"/>
<line x1="496.8" y1="190.3" x2="499" y2="192.5" stroke="#2b4c9c" stroke-width="0.9" />
<line x1="496.8" y1="192.5" x2="499" y2="190.3" stroke="#2b4c9c" stroke-width="0.9" />
<circle cx="500.5" cy="185.6" r="1.3" fill="#0072B5"/>
<line x1="499.4" y1="184.5" x2="501.6" y2="186.7" stroke="#2b4c9c" stroke-width="0.9" />
<line x1="499.4" y1="186.7" x2="501.6" y2="184.5" stroke="#2b4c9c" stroke-width="0.9" />
<circle cx="501.9" cy="183.2" r="1.3" fill="#0072B5"/>
<line x1="500.8" y1="182.1" x2="503" y2="184.3" stroke="#2b4c9c" stroke-width="0.9" />
<line x1="500.8" y1="184.3" x2="503" y2="182.1" stroke="#2b4c9c" stroke-width="0.9" />
<circle cx="503.5" cy="181.5" r="1.3" fill="#0072B5"/>
<line x1="502.4" y1="180.4" x2="504.6" y2="182.6" stroke="#2b4c9c" stroke-width="0.9" />
<line x1="502.4" y1="182.6" x2="504.6" y2="180.4" stroke="#2b4c9c" stroke-width="0.9" />
</g>
<rect x="407.7" y="175.5" width="103.7" height="110.8" fill="none" stroke="#555555" stroke-width="0.9" />
<line x1="407.7" y1="175.1" x2="407.7" y2="286.7" stroke="#555555" stroke-width="1.2" />
<line x1="407.3" y1="286.3" x2="511.8" y2="286.3" stroke="#555555" stroke-width="1.2" />
<line x1="405.3" y1="282.7" x2="407.7" y2="282.7" stroke="#555555" stroke-width="0.9" />
<line x1="411.4" y1="286.3" x2="411.4" y2="288.7" stroke="#555555" stroke-width="0.9" />
<text transform="translate(404.4 284.5) scale(1 1.12)" font-size="4.6" text-anchor="end" fill="#444" stroke="#444" stroke-width="0.06">0.0</text>
<text transform="translate(411.4 293.7) scale(1 1.12)" font-size="4.6" text-anchor="middle" fill="#444" stroke="#444" stroke-width="0.06">0.0</text>
<line x1="405.3" y1="262.12" x2="407.7" y2="262.12" stroke="#555555" stroke-width="0.9" />
<line x1="430.9" y1="286.3" x2="430.9" y2="288.7" stroke="#555555" stroke-width="0.9" />
<text transform="translate(404.4 263.92) scale(1 1.12)" font-size="4.6" text-anchor="end" fill="#444" stroke="#444" stroke-width="0.06">0.2</text>
<text transform="translate(430.9 293.7) scale(1 1.12)" font-size="4.6" text-anchor="middle" fill="#444" stroke="#444" stroke-width="0.06">0.2</text>
<line x1="405.3" y1="241.54" x2="407.7" y2="241.54" stroke="#555555" stroke-width="0.9" />
<line x1="450.4" y1="286.3" x2="450.4" y2="288.7" stroke="#555555" stroke-width="0.9" />
<text transform="translate(404.4 243.34) scale(1 1.12)" font-size="4.6" text-anchor="end" fill="#444" stroke="#444" stroke-width="0.06">0.4</text>
<text transform="translate(450.4 293.7) scale(1 1.12)" font-size="4.6" text-anchor="middle" fill="#444" stroke="#444" stroke-width="0.06">0.4</text>
<line x1="405.3" y1="220.96" x2="407.7" y2="220.96" stroke="#555555" stroke-width="0.9" />
<line x1="469.9" y1="286.3" x2="469.9" y2="288.7" stroke="#555555" stroke-width="0.9" />
<text transform="translate(404.4 222.76) scale(1 1.12)" font-size="4.6" text-anchor="end" fill="#444" stroke="#444" stroke-width="0.06">0.6</text>
<text transform="translate(469.9 293.7) scale(1 1.12)" font-size="4.6" text-anchor="middle" fill="#444" stroke="#444" stroke-width="0.06">0.6</text>
<line x1="405.3" y1="200.38" x2="407.7" y2="200.38" stroke="#555555" stroke-width="0.9" />
<line x1="489.4" y1="286.3" x2="489.4" y2="288.7" stroke="#555555" stroke-width="0.9" />
<text transform="translate(404.4 202.18) scale(1 1.12)" font-size="4.6" text-anchor="end" fill="#444" stroke="#444" stroke-width="0.06">0.8</text>
<text transform="translate(489.4 293.7) scale(1 1.12)" font-size="4.6" text-anchor="middle" fill="#444" stroke="#444" stroke-width="0.06">0.8</text>
<line x1="405.3" y1="179.8" x2="407.7" y2="179.8" stroke="#555555" stroke-width="0.9" />
<line x1="508.9" y1="286.3" x2="508.9" y2="288.7" stroke="#555555" stroke-width="0.9" />
<text transform="translate(404.4 181.6) scale(1 1.12)" font-size="4.6" text-anchor="end" fill="#444" stroke="#444" stroke-width="0.06">1.0</text>
<text transform="translate(508.9 293.7) scale(1 1.12)" font-size="4.6" text-anchor="middle" fill="#444" stroke="#444" stroke-width="0.06">1.0</text>
<text x="460.05" y="300.9" font-size="5.3" text-anchor="middle" fill="#1a1a1a" stroke="#1a1a1a" >Nomogram predicted survival probability</text>
<text x="394.5" y="231.3" font-size="5.1" text-anchor="middle" fill="#1a1a1a" stroke="#1a1a1a" transform="rotate(-90 394.5 231.3)">Observed fraction survival probability</text>
<line x1="482.5" y1="268.6" x2="487.9" y2="268.6" stroke="#0072B5" stroke-width="1" />
<text transform="translate(490.7 270.5) scale(1 1.05)" font-size="4.6" text-anchor="start" fill="#333" stroke="#333" stroke-width="0.05">1−year</text>
<line x1="482.5" y1="273.2" x2="487.9" y2="273.2" stroke="#BC3C29" stroke-width="1" />
<text transform="translate(490.7 275.1) scale(1 1.05)" font-size="4.6" text-anchor="start" fill="#333" stroke="#333" stroke-width="0.05">3−year</text>
<line x1="482.5" y1="277.8" x2="487.9" y2="277.8" stroke="#E18727" stroke-width="1" />
<text transform="translate(490.7 279.7) scale(1 1.05)" font-size="4.6" text-anchor="start" fill="#333" stroke="#333" stroke-width="0.05">5−year</text>
<line x1="482.5" y1="282.4" x2="487.9" y2="282.4" stroke="#b5b5b5" stroke-width="1" />
<text transform="translate(490.7 284.3) scale(1 1.05)" font-size="4.6" text-anchor="start" fill="#333" stroke="#333" stroke-width="0.05">Ideal line</text>
<text x="541.5" y="165.3" font-size="12.2" text-anchor="start" fill="#231f20" stroke="#231f20" >E</text>
<clipPath id="cpE"><rect x="576.6" y="175.6" width="103.9" height="110.6"/></clipPath>
<g clip-path="url(#cpE)">
<line x1="570.55" y1="292.99" x2="686.35" y2="169.51" stroke="#b5b5b5" stroke-width="0.7" />
<line x1="612" y1="175.6" x2="612" y2="176.25" stroke="#E8A060" stroke-width="0.8" stroke-opacity="1.0"/>
<line x1="612.69" y1="175.6" x2="612.69" y2="176.83" stroke="#E8A060" stroke-width="0.8" stroke-opacity="1.0"/>
<line x1="613.17" y1="175.6" x2="613.17" y2="176.71" stroke="#E8A060" stroke-width="0.8" stroke-opacity="1.0"/>
<line x1="613.83" y1="175.6" x2="613.83" y2="176.43" stroke="#E8A060" stroke-width="0.8" stroke-opacity="1.0"/>
<line x1="614.71" y1="175.6" x2="614.71" y2="176.36" stroke="#E8A060" stroke-width="0.8" stroke-opacity="1.0"/>
<line x1="615.42" y1="175.6" x2="615.42" y2="176.58" stroke="#E8A060" stroke-width="0.8" stroke-opacity="1.0"/>
<line x1="616.39" y1="175.6" x2="616.39" y2="176.33" stroke="#E8A060" stroke-width="0.8" stroke-opacity="1.0"/>
<line x1="617.27" y1="175.6" x2="617.27" y2="176.6" stroke="#E8A060" stroke-width="0.8" stroke-opacity="1.0"/>
<line x1="618.05" y1="175.6" x2="618.05" y2="176.36" stroke="#E8A060" stroke-width="0.8" stroke-opacity="1.0"/>
<line x1="618.67" y1="175.6" x2="618.67" y2="176.21" stroke="#E8A060" stroke-width="0.8" stroke-opacity="1.0"/>
<line x1="619.16" y1="175.6" x2="619.16" y2="176.21" stroke="#E8A060" stroke-width="0.8" stroke-opacity="1.0"/>
<line x1="619.99" y1="175.6" x2="619.99" y2="176.28" stroke="#E8A060" stroke-width="0.8" stroke-opacity="1.0"/>
<line x1="620.5" y1="175.6" x2="620.5" y2="176.21" stroke="#E8A060" stroke-width="0.8" stroke-opacity="1.0"/>
<line x1="621.4" y1="175.6" x2="621.4" y2="176.76" stroke="#E8A060" stroke-width="0.8" stroke-opacity="1.0"/>
<line x1="622.19" y1="175.6" x2="622.19" y2="176.29" stroke="#E8A060" stroke-width="0.8" stroke-opacity="1.0"/>
<line x1="622.75" y1="175.6" x2="622.75" y2="176.3" stroke="#E8A060" stroke-width="0.8" stroke-opacity="1.0"/>
<line x1="623.42" y1="175.6" x2="623.42" y2="176.24" stroke="#E8A060" stroke-width="0.8" stroke-opacity="1.0"/>
<line x1="624.09" y1="175.6" x2="624.09" y2="176.28" stroke="#E8A060" stroke-width="0.8" stroke-opacity="1.0"/>
<line x1="625.05" y1="175.6" x2="625.05" y2="176.87" stroke="#E8A060" stroke-width="0.8" stroke-opacity="1.0"/>
<line x1="625.78" y1="175.6" x2="625.78" y2="176.27" stroke="#E8A060" stroke-width="0.8" stroke-opacity="1.0"/>
<line x1="626.74" y1="175.6" x2="626.74" y2="176.31" stroke="#E8A060" stroke-width="0.8" stroke-opacity="1.0"/>
<line x1="627.36" y1="175.6" x2="627.36" y2="176.2" stroke="#E8A060" stroke-width="0.8" stroke-opacity="1.0"/>
<line x1="627.99" y1="175.6" x2="627.99" y2="176.41" stroke="#E8A060" stroke-width="0.8" stroke-opacity="1.0"/>
<line x1="628.69" y1="175.6" x2="628.69" y2="176.25" stroke="#E8A060" stroke-width="0.8" stroke-opacity="1.0"/>
<line x1="629.4" y1="175.6" x2="629.4" y2="176.2" stroke="#E8A060" stroke-width="0.8" stroke-opacity="1.0"/>
<line x1="629.97" y1="175.6" x2="629.97" y2="176.21" stroke="#E8A060" stroke-width="0.8" stroke-opacity="1.0"/>
<line x1="630.61" y1="175.6" x2="630.61" y2="176.2" stroke="#E8A060" stroke-width="0.8" stroke-opacity="1.0"/>
<line x1="631.04" y1="175.6" x2="631.04" y2="176.3" stroke="#E8A060" stroke-width="0.8" stroke-opacity="1.0"/>
<line x1="631.59" y1="175.6" x2="631.59" y2="176.5" stroke="#E8A060" stroke-width="0.8" stroke-opacity="1.0"/>
<line x1="632.31" y1="175.6" x2="632.31" y2="176.64" stroke="#E8A060" stroke-width="0.8" stroke-opacity="1.0"/>
<line x1="633.1" y1="175.6" x2="633.1" y2="176.61" stroke="#E8A060" stroke-width="0.8" stroke-opacity="1.0"/>
<line x1="634.01" y1="175.6" x2="634.01" y2="176.35" stroke="#E8A060" stroke-width="0.8" stroke-opacity="1.0"/>
<line x1="634.61" y1="175.6" x2="634.61" y2="176.88" stroke="#E8A060" stroke-width="0.8" stroke-opacity="1.0"/>
<line x1="635.11" y1="175.6" x2="635.11" y2="176.62" stroke="#E8A060" stroke-width="0.8" stroke-opacity="1.0"/>
<line x1="635.9" y1="175.6" x2="635.9" y2="176.2" stroke="#E8A060" stroke-width="0.8" stroke-opacity="1.0"/>
<line x1="636.78" y1="175.6" x2="636.78" y2="176.78" stroke="#E8A060" stroke-width="0.8" stroke-opacity="1.0"/>
<line x1="637.55" y1="175.6" x2="637.55" y2="176.63" stroke="#E8A060" stroke-width="0.8" stroke-opacity="1.0"/>
<line x1="638.43" y1="175.6" x2="638.43" y2="176.23" stroke="#E8A060" stroke-width="0.8" stroke-opacity="1.0"/>
<line x1="639.14" y1="175.6" x2="639.14" y2="176.43" stroke="#E8A060" stroke-width="0.8" stroke-opacity="1.0"/>
<line x1="640.03" y1="175.6" x2="640.03" y2="176.69" stroke="#E8A060" stroke-width="0.8" stroke-opacity="1.0"/>
<line x1="640.91" y1="175.6" x2="640.91" y2="176.5" stroke="#E8A060" stroke-width="0.8" stroke-opacity="1.0"/>
<line x1="641.83" y1="175.6" x2="641.83" y2="176.58" stroke="#E8A060" stroke-width="0.8" stroke-opacity="1.0"/>
<line x1="642.64" y1="175.6" x2="642.64" y2="176.27" stroke="#E8A060" stroke-width="0.8" stroke-opacity="1.0"/>
<line x1="643.08" y1="175.6" x2="643.08" y2="176.23" stroke="#E8A060" stroke-width="0.8" stroke-opacity="1.0"/>
<line x1="643.7" y1="175.6" x2="643.7" y2="176.22" stroke="#E8A060" stroke-width="0.8" stroke-opacity="1.0"/>
<line x1="644.59" y1="175.6" x2="644.59" y2="176.48" stroke="#E8A060" stroke-width="0.8" stroke-opacity="1.0"/>
<line x1="645.36" y1="175.6" x2="645.36" y2="176.53" stroke="#E8A060" stroke-width="0.8" stroke-opacity="1.0"/>
<line x1="646.16" y1="175.6" x2="646.16" y2="176.42" stroke="#E8A060" stroke-width="0.8" stroke-opacity="1.0"/>
<line x1="646.58" y1="175.6" x2="646.58" y2="176.69" stroke="#E8A060" stroke-width="0.8" stroke-opacity="1.0"/>
<line x1="647.42" y1="175.6" x2="647.42" y2="176.43" stroke="#E8A060" stroke-width="0.8" stroke-opacity="1.0"/>
<line x1="648.14" y1="175.6" x2="648.14" y2="176.56" stroke="#E8A060" stroke-width="0.8" stroke-opacity="1.0"/>
<line x1="648.6" y1="175.6" x2="648.6" y2="176.63" stroke="#E8A060" stroke-width="0.8" stroke-opacity="1.0"/>
<line x1="649.16" y1="175.6" x2="649.16" y2="176.21" stroke="#E8A060" stroke-width="0.8" stroke-opacity="1.0"/>
<line x1="649.73" y1="175.6" x2="649.73" y2="176.62" stroke="#E8A060" stroke-width="0.8" stroke-opacity="1.0"/>
<line x1="650.26" y1="175.6" x2="650.26" y2="176.63" stroke="#E8A060" stroke-width="0.8" stroke-opacity="1.0"/>
<line x1="651.23" y1="175.6" x2="651.23" y2="176.43" stroke="#E8A060" stroke-width="0.8" stroke-opacity="1.0"/>
<line x1="651.86" y1="175.6" x2="651.86" y2="176.42" stroke="#E8A060" stroke-width="0.8" stroke-opacity="1.0"/>
<line x1="640" y1="175.6" x2="640" y2="176.79" stroke="#D07050" stroke-width="0.8" stroke-opacity="1.0"/>
<line x1="640.77" y1="175.6" x2="640.77" y2="176.64" stroke="#D07050" stroke-width="0.8" stroke-opacity="1.0"/>
<line x1="641.23" y1="175.6" x2="641.23" y2="176.24" stroke="#D07050" stroke-width="0.8" stroke-opacity="1.0"/>
<line x1="641.79" y1="175.6" x2="641.79" y2="176.76" stroke="#D07050" stroke-width="0.8" stroke-opacity="1.0"/>
<line x1="642.38" y1="175.6" x2="642.38" y2="176.56" stroke="#D07050" stroke-width="0.8" stroke-opacity="1.0"/>
<line x1="642.81" y1="175.6" x2="642.81" y2="176.21" stroke="#D07050" stroke-width="0.8" stroke-opacity="1.0"/>
<line x1="643.38" y1="175.6" x2="643.38" y2="176.68" stroke="#D07050" stroke-width="0.8" stroke-opacity="1.0"/>
<line x1="644.19" y1="175.6" x2="644.19" y2="176.68" stroke="#D07050" stroke-width="0.8" stroke-opacity="1.0"/>
<line x1="644.77" y1="175.6" x2="644.77" y2="176.51" stroke="#D07050" stroke-width="0.8" stroke-opacity="1.0"/>
<line x1="645.45" y1="175.6" x2="645.45" y2="176.47" stroke="#D07050" stroke-width="0.8" stroke-opacity="1.0"/>
<line x1="645.94" y1="175.6" x2="645.94" y2="176.95" stroke="#D07050" stroke-width="0.8" stroke-opacity="1.0"/>
<line x1="646.47" y1="175.6" x2="646.47" y2="177.07" stroke="#D07050" stroke-width="0.8" stroke-opacity="1.0"/>
<line x1="647.41" y1="175.6" x2="647.41" y2="176.2" stroke="#D07050" stroke-width="0.8" stroke-opacity="1.0"/>
<line x1="648.09" y1="175.6" x2="648.09" y2="176.86" stroke="#D07050" stroke-width="0.8" stroke-opacity="1.0"/>
<line x1="649.05" y1="175.6" x2="649.05" y2="176.45" stroke="#D07050" stroke-width="0.8" stroke-opacity="1.0"/>
<line x1="649.62" y1="175.6" x2="649.62" y2="176.27" stroke="#D07050" stroke-width="0.8" stroke-opacity="1.0"/>
<line x1="650.57" y1="175.6" x2="650.57" y2="176.27" stroke="#D07050" stroke-width="0.8" stroke-opacity="1.0"/>
<line x1="651.32" y1="175.6" x2="651.32" y2="176.24" stroke="#D07050" stroke-width="0.8" stroke-opacity="1.0"/>
<line x1="652.03" y1="175.6" x2="652.03" y2="177.03" stroke="#D07050" stroke-width="0.8" stroke-opacity="1.0"/>
<line x1="652.52" y1="175.6" x2="652.52" y2="176.86" stroke="#D07050" stroke-width="0.8" stroke-opacity="1.0"/>
<line x1="653.23" y1="175.6" x2="653.23" y2="176.94" stroke="#D07050" stroke-width="0.8" stroke-opacity="1.0"/>
<line x1="654.04" y1="175.6" x2="654.04" y2="176.29" stroke="#D07050" stroke-width="0.8" stroke-opacity="1.0"/>
<line x1="654.97" y1="175.6" x2="654.97" y2="176.48" stroke="#D07050" stroke-width="0.8" stroke-opacity="1.0"/>
<line x1="655.4" y1="175.6" x2="655.4" y2="176.2" stroke="#D07050" stroke-width="0.8" stroke-opacity="1.0"/>
<line x1="656.1" y1="175.6" x2="656.1" y2="176.45" stroke="#D07050" stroke-width="0.8" stroke-opacity="1.0"/>
<line x1="656.68" y1="175.6" x2="656.68" y2="176.24" stroke="#D07050" stroke-width="0.8" stroke-opacity="1.0"/>
<line x1="657.3" y1="175.6" x2="657.3" y2="176.34" stroke="#D07050" stroke-width="0.8" stroke-opacity="1.0"/>
<line x1="658.19" y1="175.6" x2="658.19" y2="176.2" stroke="#D07050" stroke-width="0.8" stroke-opacity="1.0"/>
<line x1="659.03" y1="175.6" x2="659.03" y2="176.88" stroke="#D07050" stroke-width="0.8" stroke-opacity="1.0"/>
<line x1="659.52" y1="175.6" x2="659.52" y2="177" stroke="#D07050" stroke-width="0.8" stroke-opacity="1.0"/>
<line x1="660.33" y1="175.6" x2="660.33" y2="176.96" stroke="#D07050" stroke-width="0.8" stroke-opacity="1.0"/>
<line x1="660.92" y1="175.6" x2="660.92" y2="176.39" stroke="#D07050" stroke-width="0.8" stroke-opacity="1.0"/>
<line x1="661.56" y1="175.6" x2="661.56" y2="177.1" stroke="#D07050" stroke-width="0.8" stroke-opacity="1.0"/>
<line x1="662.31" y1="175.6" x2="662.31" y2="176.38" stroke="#D07050" stroke-width="0.8" stroke-opacity="1.0"/>
<line x1="662.97" y1="175.6" x2="662.97" y2="176.31" stroke="#D07050" stroke-width="0.8" stroke-opacity="1.0"/>
<line x1="663.41" y1="175.6" x2="663.41" y2="176.22" stroke="#D07050" stroke-width="0.8" stroke-opacity="1.0"/>
<line x1="664.3" y1="175.6" x2="664.3" y2="176.32" stroke="#D07050" stroke-width="0.8" stroke-opacity="1.0"/>
<line x1="665.24" y1="175.6" x2="665.24" y2="176.3" stroke="#D07050" stroke-width="0.8" stroke-opacity="1.0"/>
<line x1="665.81" y1="175.6" x2="665.81" y2="176.51" stroke="#D07050" stroke-width="0.8" stroke-opacity="1.0"/>
<line x1="666.34" y1="175.6" x2="666.34" y2="176.39" stroke="#D07050" stroke-width="0.8" stroke-opacity="1.0"/>
<line x1="667.3" y1="175.6" x2="667.3" y2="176.94" stroke="#D07050" stroke-width="0.8" stroke-opacity="1.0"/>
<line x1="667.5" y1="175.6" x2="667.5" y2="176.93" stroke="#3080C0" stroke-width="0.8" stroke-opacity="1.0"/>
<line x1="668.17" y1="175.6" x2="668.17" y2="177.32" stroke="#3080C0" stroke-width="0.8" stroke-opacity="1.0"/>
<line x1="668.69" y1="175.6" x2="668.69" y2="177.03" stroke="#3080C0" stroke-width="0.8" stroke-opacity="1.0"/>
<line x1="669" y1="175.6" x2="669" y2="177.05" stroke="#3080C0" stroke-width="0.8" stroke-opacity="1.0"/>
<line x1="669.49" y1="175.6" x2="669.49" y2="177.07" stroke="#3080C0" stroke-width="0.8" stroke-opacity="1.0"/>
<line x1="670.04" y1="175.6" x2="670.04" y2="176.62" stroke="#3080C0" stroke-width="0.8" stroke-opacity="1.0"/>
<line x1="670.36" y1="175.6" x2="670.36" y2="177.3" stroke="#3080C0" stroke-width="0.8" stroke-opacity="1.0"/>
<line x1="670.71" y1="175.6" x2="670.71" y2="176.77" stroke="#3080C0" stroke-width="0.8" stroke-opacity="1.0"/>
<line x1="671.15" y1="175.6" x2="671.15" y2="176.63" stroke="#3080C0" stroke-width="0.8" stroke-opacity="1.0"/>
<line x1="671.75" y1="175.6" x2="671.75" y2="177.37" stroke="#3080C0" stroke-width="0.8" stroke-opacity="1.0"/>
<line x1="672.15" y1="175.6" x2="672.15" y2="176.96" stroke="#3080C0" stroke-width="0.8" stroke-opacity="1.0"/>
<line x1="672.57" y1="175.6" x2="672.57" y2="176.85" stroke="#3080C0" stroke-width="0.8" stroke-opacity="1.0"/>
<line x1="673.03" y1="175.6" x2="673.03" y2="176.55" stroke="#3080C0" stroke-width="0.8" stroke-opacity="1.0"/>
<line x1="673.39" y1="175.6" x2="673.39" y2="176.57" stroke="#3080C0" stroke-width="0.8" stroke-opacity="1.0"/>
<line x1="674.06" y1="175.6" x2="674.06" y2="176.79" stroke="#3080C0" stroke-width="0.8" stroke-opacity="1.0"/>
<line x1="674.44" y1="175.6" x2="674.44" y2="177.27" stroke="#3080C0" stroke-width="0.8" stroke-opacity="1.0"/>
<line x1="615.9" y1="235.2" x2="615.9" y2="257.4" stroke="#E18727" stroke-width="0.75" />
<line x1="614.7" y1="235.2" x2="617.1" y2="235.2" stroke="#E18727" stroke-width="0.75" />
<line x1="614.7" y1="257.4" x2="617.1" y2="257.4" stroke="#E18727" stroke-width="0.75" />
<line x1="623.2" y1="218" x2="623.2" y2="241.2" stroke="#E18727" stroke-width="0.75" />
<line x1="622" y1="218" x2="624.4" y2="218" stroke="#E18727" stroke-width="0.75" />
<line x1="622" y1="241.2" x2="624.4" y2="241.2" stroke="#E18727" stroke-width="0.75" />
<line x1="634.2" y1="208.9" x2="634.2" y2="232.3" stroke="#E18727" stroke-width="0.75" />
<line x1="633" y1="208.9" x2="635.4" y2="208.9" stroke="#E18727" stroke-width="0.75" />
<line x1="633" y1="232.3" x2="635.4" y2="232.3" stroke="#E18727" stroke-width="0.75" />
<line x1="642.1" y1="204.6" x2="642.1" y2="226.6" stroke="#E18727" stroke-width="0.75" />
<line x1="640.9" y1="204.6" x2="643.3" y2="204.6" stroke="#E18727" stroke-width="0.75" />
<line x1="640.9" y1="226.6" x2="643.3" y2="226.6" stroke="#E18727" stroke-width="0.75" />
<line x1="646.1" y1="209.5" x2="646.1" y2="234.3" stroke="#E18727" stroke-width="0.75" />
<line x1="644.9" y1="209.5" x2="647.3" y2="209.5" stroke="#E18727" stroke-width="0.75" />
<line x1="644.9" y1="234.3" x2="647.3" y2="234.3" stroke="#E18727" stroke-width="0.75" />
<line x1="653.1" y1="193.8" x2="653.1" y2="217.1" stroke="#E18727" stroke-width="0.75" />
<line x1="651.9" y1="193.8" x2="654.3" y2="193.8" stroke="#E18727" stroke-width="0.75" />
<line x1="651.9" y1="217.1" x2="654.3" y2="217.1" stroke="#E18727" stroke-width="0.75" />
<line x1="655.9" y1="196.5" x2="655.9" y2="214" stroke="#E18727" stroke-width="0.75" />
<line x1="654.7" y1="196.5" x2="657.1" y2="196.5" stroke="#E18727" stroke-width="0.75" />
<line x1="654.7" y1="214" x2="657.1" y2="214" stroke="#E18727" stroke-width="0.75" />
<line x1="659.9" y1="185.2" x2="659.9" y2="205" stroke="#E18727" stroke-width="0.75" />
<line x1="658.7" y1="185.2" x2="661.1" y2="185.2" stroke="#E18727" stroke-width="0.75" />
<line x1="658.7" y1="205" x2="661.1" y2="205" stroke="#E18727" stroke-width="0.75" />
<line x1="663.2" y1="182" x2="663.2" y2="199" stroke="#E18727" stroke-width="0.75" />
<line x1="662" y1="182" x2="664.4" y2="182" stroke="#E18727" stroke-width="0.75" />
<line x1="662" y1="199" x2="664.4" y2="199" stroke="#E18727" stroke-width="0.75" />
<polyline points="615.9,247.8 623.2,231.2 634.2,221.1 642.1,216.1 646.1,223.5 653.1,208.9 655.9,205 659.9,196 663.2,190" fill="none" stroke="#E18727" stroke-width="0.8" stroke-linejoin="round" />
<circle cx="615.9" cy="247.8" r="0.9" fill="#E18727"/>
<line x1="614.8" y1="242" x2="617" y2="244.2" stroke="#2b4c9c" stroke-width="0.9" />
<line x1="614.8" y1="244.2" x2="617" y2="242" stroke="#2b4c9c" stroke-width="0.9" />
<circle cx="623.2" cy="231.2" r="0.9" fill="#E18727"/>
<line x1="622.1" y1="230.1" x2="624.3" y2="232.3" stroke="#2b4c9c" stroke-width="0.9" />
<line x1="622.1" y1="232.3" x2="624.3" y2="230.1" stroke="#2b4c9c" stroke-width="0.9" />
<circle cx="634.2" cy="221.1" r="0.9" fill="#E18727"/>
<line x1="633.1" y1="220" x2="635.3" y2="222.2" stroke="#2b4c9c" stroke-width="0.9" />
<line x1="633.1" y1="222.2" x2="635.3" y2="220" stroke="#2b4c9c" stroke-width="0.9" />
<circle cx="642.1" cy="216.1" r="0.9" fill="#E18727"/>
<line x1="641" y1="215" x2="643.2" y2="217.2" stroke="#2b4c9c" stroke-width="0.9" />
<line x1="641" y1="217.2" x2="643.2" y2="215" stroke="#2b4c9c" stroke-width="0.9" />
<circle cx="646.1" cy="223.5" r="0.9" fill="#E18727"/>
<line x1="645" y1="222.4" x2="647.2" y2="224.6" stroke="#2b4c9c" stroke-width="0.9" />
<line x1="645" y1="224.6" x2="647.2" y2="222.4" stroke="#2b4c9c" stroke-width="0.9" />
<circle cx="653.1" cy="208.9" r="0.9" fill="#E18727"/>
<line x1="652" y1="207.8" x2="654.2" y2="210" stroke="#2b4c9c" stroke-width="0.9" />
<line x1="652" y1="210" x2="654.2" y2="207.8" stroke="#2b4c9c" stroke-width="0.9" />
<circle cx="655.9" cy="205" r="0.9" fill="#E18727"/>
<line x1="654.8" y1="203.9" x2="657" y2="206.1" stroke="#2b4c9c" stroke-width="0.9" />
<line x1="654.8" y1="206.1" x2="657" y2="203.9" stroke="#2b4c9c" stroke-width="0.9" />
<circle cx="659.9" cy="196" r="0.9" fill="#E18727"/>
<line x1="658.8" y1="194.9" x2="661" y2="197.1" stroke="#2b4c9c" stroke-width="0.9" />
<line x1="658.8" y1="197.1" x2="661" y2="194.9" stroke="#2b4c9c" stroke-width="0.9" />
<circle cx="663.2" cy="190" r="0.9" fill="#E18727"/>
<line x1="662.1" y1="188.9" x2="664.3" y2="191.1" stroke="#2b4c9c" stroke-width="0.9" />
<line x1="662.1" y1="191.1" x2="664.3" y2="188.9" stroke="#2b4c9c" stroke-width="0.9" />
<line x1="631.1" y1="224.6" x2="631.1" y2="247.8" stroke="#BC3C29" stroke-width="0.75" />
<line x1="629.9" y1="224.6" x2="632.3" y2="224.6" stroke="#BC3C29" stroke-width="0.75" />
<line x1="629.9" y1="247.8" x2="632.3" y2="247.8" stroke="#BC3C29" stroke-width="0.75" />
<line x1="637.9" y1="205.5" x2="637.9" y2="226.4" stroke="#BC3C29" stroke-width="0.75" />
<line x1="636.7" y1="205.5" x2="639.1" y2="205.5" stroke="#BC3C29" stroke-width="0.75" />
<line x1="636.7" y1="226.4" x2="639.1" y2="226.4" stroke="#BC3C29" stroke-width="0.75" />
<line x1="646.5" y1="197.6" x2="646.5" y2="219" stroke="#BC3C29" stroke-width="0.75" />
<line x1="645.3" y1="197.6" x2="647.7" y2="197.6" stroke="#BC3C29" stroke-width="0.75" />
<line x1="645.3" y1="219" x2="647.7" y2="219" stroke="#BC3C29" stroke-width="0.75" />
<line x1="653.1" y1="193" x2="653.1" y2="212" stroke="#BC3C29" stroke-width="0.75" />
<line x1="651.9" y1="193" x2="654.3" y2="193" stroke="#BC3C29" stroke-width="0.75" />
<line x1="651.9" y1="212" x2="654.3" y2="212" stroke="#BC3C29" stroke-width="0.75" />
<line x1="661.9" y1="181.3" x2="661.9" y2="200" stroke="#BC3C29" stroke-width="0.75" />
<line x1="660.7" y1="181.3" x2="663.1" y2="181.3" stroke="#BC3C29" stroke-width="0.75" />
<line x1="660.7" y1="200" x2="663.1" y2="200" stroke="#BC3C29" stroke-width="0.75" />
<line x1="665.6" y1="181" x2="665.6" y2="195.8" stroke="#BC3C29" stroke-width="0.75" />
<line x1="664.4" y1="181" x2="666.8" y2="181" stroke="#BC3C29" stroke-width="0.75" />
<line x1="664.4" y1="195.8" x2="666.8" y2="195.8" stroke="#BC3C29" stroke-width="0.75" />
<line x1="667.1" y1="180" x2="667.1" y2="193" stroke="#BC3C29" stroke-width="0.75" />
<line x1="665.9" y1="180" x2="668.3" y2="180" stroke="#BC3C29" stroke-width="0.75" />
<line x1="665.9" y1="193" x2="668.3" y2="193" stroke="#BC3C29" stroke-width="0.75" />
<polyline points="631.1,237.9 637.9,217.1 646.5,208.2 653.1,203.3 661.9,193 665.6,188 667.1,186" fill="none" stroke="#BC3C29" stroke-width="0.8" stroke-linejoin="round" />
<circle cx="631.1" cy="237.9" r="0.9" fill="#BC3C29"/>
<line x1="630" y1="232.1" x2="632.2" y2="234.3" stroke="#2b4c9c" stroke-width="0.9" />
<line x1="630" y1="234.3" x2="632.2" y2="232.1" stroke="#2b4c9c" stroke-width="0.9" />
<circle cx="637.9" cy="217.1" r="0.9" fill="#BC3C29"/>
<line x1="636.8" y1="216" x2="639" y2="218.2" stroke="#2b4c9c" stroke-width="0.9" />
<line x1="636.8" y1="218.2" x2="639" y2="216" stroke="#2b4c9c" stroke-width="0.9" />
<circle cx="646.5" cy="208.2" r="0.9" fill="#BC3C29"/>
<line x1="645.4" y1="207.1" x2="647.6" y2="209.3" stroke="#2b4c9c" stroke-width="0.9" />
<line x1="645.4" y1="209.3" x2="647.6" y2="207.1" stroke="#2b4c9c" stroke-width="0.9" />
<circle cx="653.1" cy="203.3" r="0.9" fill="#BC3C29"/>
<line x1="652" y1="202.2" x2="654.2" y2="204.4" stroke="#2b4c9c" stroke-width="0.9" />
<line x1="652" y1="204.4" x2="654.2" y2="202.2" stroke="#2b4c9c" stroke-width="0.9" />
<circle cx="661.9" cy="193" r="0.9" fill="#BC3C29"/>
<line x1="660.8" y1="191.9" x2="663" y2="194.1" stroke="#2b4c9c" stroke-width="0.9" />
<line x1="660.8" y1="194.1" x2="663" y2="191.9" stroke="#2b4c9c" stroke-width="0.9" />
<circle cx="665.6" cy="188" r="0.9" fill="#BC3C29"/>
<line x1="664.5" y1="186.9" x2="666.7" y2="189.1" stroke="#2b4c9c" stroke-width="0.9" />
<line x1="664.5" y1="189.1" x2="666.7" y2="186.9" stroke="#2b4c9c" stroke-width="0.9" />
<circle cx="667.1" cy="186" r="0.9" fill="#BC3C29"/>
<line x1="666" y1="184.9" x2="668.2" y2="187.1" stroke="#2b4c9c" stroke-width="0.9" />
<line x1="666" y1="187.1" x2="668.2" y2="184.9" stroke="#2b4c9c" stroke-width="0.9" />
<line x1="660.5" y1="197" x2="660.5" y2="216" stroke="#0072B5" stroke-width="0.75" />
<line x1="659.3" y1="197" x2="661.7" y2="197" stroke="#0072B5" stroke-width="0.75" />
<line x1="659.3" y1="216" x2="661.7" y2="216" stroke="#0072B5" stroke-width="0.75" />
<line x1="664" y1="189" x2="664" y2="204" stroke="#0072B5" stroke-width="0.75" />
<line x1="662.8" y1="189" x2="665.2" y2="189" stroke="#0072B5" stroke-width="0.75" />
<line x1="662.8" y1="204" x2="665.2" y2="204" stroke="#0072B5" stroke-width="0.75" />
<line x1="667.9" y1="185" x2="667.9" y2="197" stroke="#0072B5" stroke-width="0.75" />
<line x1="666.7" y1="185" x2="669.1" y2="185" stroke="#0072B5" stroke-width="0.75" />
<line x1="666.7" y1="197" x2="669.1" y2="197" stroke="#0072B5" stroke-width="0.75" />
<line x1="669.1" y1="183" x2="669.1" y2="195" stroke="#0072B5" stroke-width="0.75" />
<line x1="667.9" y1="183" x2="670.3" y2="183" stroke="#0072B5" stroke-width="0.75" />
<line x1="667.9" y1="195" x2="670.3" y2="195" stroke="#0072B5" stroke-width="0.75" />
<line x1="669.9" y1="180" x2="669.9" y2="191" stroke="#0072B5" stroke-width="0.75" />
<line x1="668.7" y1="180" x2="671.1" y2="180" stroke="#0072B5" stroke-width="0.75" />
<line x1="668.7" y1="191" x2="671.1" y2="191" stroke="#0072B5" stroke-width="0.75" />
<line x1="671.1" y1="179.5" x2="671.1" y2="189" stroke="#0072B5" stroke-width="0.75" />
<line x1="669.9" y1="179.5" x2="672.3" y2="179.5" stroke="#0072B5" stroke-width="0.75" />
<line x1="669.9" y1="189" x2="672.3" y2="189" stroke="#0072B5" stroke-width="0.75" />
<line x1="671.9" y1="181" x2="671.9" y2="192" stroke="#0072B5" stroke-width="0.75" />
<line x1="670.7" y1="181" x2="673.1" y2="181" stroke="#0072B5" stroke-width="0.75" />
<line x1="670.7" y1="192" x2="673.1" y2="192" stroke="#0072B5" stroke-width="0.75" />
<line x1="673.1" y1="178.5" x2="673.1" y2="185" stroke="#0072B5" stroke-width="0.75" />
<line x1="671.9" y1="178.5" x2="674.3" y2="178.5" stroke="#0072B5" stroke-width="0.75" />
<line x1="671.9" y1="185" x2="674.3" y2="185" stroke="#0072B5" stroke-width="0.75" />
<polyline points="660.5,206 664,196 667.9,190.3 669.1,188.7 669.9,184.7 671.1,183.5 671.9,186.3 673.1,181.2" fill="none" stroke="#0072B5" stroke-width="0.8" stroke-linejoin="round" />
<circle cx="660.5" cy="206" r="1.3" fill="#0072B5"/>
<line x1="659.4" y1="204.9" x2="661.6" y2="207.1" stroke="#2b4c9c" stroke-width="0.9" />
<line x1="659.4" y1="207.1" x2="661.6" y2="204.9" stroke="#2b4c9c" stroke-width="0.9" />
<circle cx="664" cy="196" r="1.3" fill="#0072B5"/>
<line x1="662.9" y1="194.9" x2="665.1" y2="197.1" stroke="#2b4c9c" stroke-width="0.9" />
<line x1="662.9" y1="197.1" x2="665.1" y2="194.9" stroke="#2b4c9c" stroke-width="0.9" />
<circle cx="667.9" cy="190.3" r="1.3" fill="#0072B5"/>
<line x1="666.8" y1="189.2" x2="669" y2="191.4" stroke="#2b4c9c" stroke-width="0.9" />
<line x1="666.8" y1="191.4" x2="669" y2="189.2" stroke="#2b4c9c" stroke-width="0.9" />
<circle cx="669.1" cy="188.7" r="1.3" fill="#0072B5"/>
<line x1="668" y1="187.6" x2="670.2" y2="189.8" stroke="#2b4c9c" stroke-width="0.9" />
<line x1="668" y1="189.8" x2="670.2" y2="187.6" stroke="#2b4c9c" stroke-width="0.9" />
<circle cx="669.9" cy="184.7" r="1.3" fill="#0072B5"/>
<line x1="668.8" y1="183.6" x2="671" y2="185.8" stroke="#2b4c9c" stroke-width="0.9" />
<line x1="668.8" y1="185.8" x2="671" y2="183.6" stroke="#2b4c9c" stroke-width="0.9" />
<circle cx="671.1" cy="183.5" r="1.3" fill="#0072B5"/>
<line x1="670" y1="182.4" x2="672.2" y2="184.6" stroke="#2b4c9c" stroke-width="0.9" />
<line x1="670" y1="184.6" x2="672.2" y2="182.4" stroke="#2b4c9c" stroke-width="0.9" />
<circle cx="671.9" cy="186.3" r="1.3" fill="#0072B5"/>
<line x1="670.8" y1="185.2" x2="673" y2="187.4" stroke="#2b4c9c" stroke-width="0.9" />
<line x1="670.8" y1="187.4" x2="673" y2="185.2" stroke="#2b4c9c" stroke-width="0.9" />
<circle cx="673.1" cy="181.2" r="1.3" fill="#0072B5"/>
<line x1="672" y1="180.1" x2="674.2" y2="182.3" stroke="#2b4c9c" stroke-width="0.9" />
<line x1="672" y1="182.3" x2="674.2" y2="180.1" stroke="#2b4c9c" stroke-width="0.9" />
</g>
<rect x="576.6" y="175.6" width="103.9" height="110.6" fill="none" stroke="#333333" stroke-width="0.9" />
<line x1="576.6" y1="175.2" x2="576.6" y2="286.6" stroke="#333333" stroke-width="1.2" />
<line x1="576.2" y1="286.2" x2="680.9" y2="286.2" stroke="#333333" stroke-width="1.2" />
<line x1="574.2" y1="282.7" x2="576.6" y2="282.7" stroke="#333333" stroke-width="0.9" />
<line x1="580.2" y1="286.2" x2="580.2" y2="288.6" stroke="#333333" stroke-width="0.9" />
<text transform="translate(573.3 284.5) scale(1 1.12)" font-size="4.6" text-anchor="end" fill="#444" stroke="#444" stroke-width="0.06">0.0</text>
<text transform="translate(580.2 293.7) scale(1 1.12)" font-size="4.6" text-anchor="middle" fill="#444" stroke="#444" stroke-width="0.06">0.0</text>
<line x1="574.2" y1="262.12" x2="576.6" y2="262.12" stroke="#333333" stroke-width="0.9" />
<line x1="599.5" y1="286.2" x2="599.5" y2="288.6" stroke="#333333" stroke-width="0.9" />
<text transform="translate(573.3 263.92) scale(1 1.12)" font-size="4.6" text-anchor="end" fill="#444" stroke="#444" stroke-width="0.06">0.2</text>
<text transform="translate(599.5 293.7) scale(1 1.12)" font-size="4.6" text-anchor="middle" fill="#444" stroke="#444" stroke-width="0.06">0.2</text>
<line x1="574.2" y1="241.54" x2="576.6" y2="241.54" stroke="#333333" stroke-width="0.9" />
<line x1="618.8" y1="286.2" x2="618.8" y2="288.6" stroke="#333333" stroke-width="0.9" />
<text transform="translate(573.3 243.34) scale(1 1.12)" font-size="4.6" text-anchor="end" fill="#444" stroke="#444" stroke-width="0.06">0.4</text>
<text transform="translate(618.8 293.7) scale(1 1.12)" font-size="4.6" text-anchor="middle" fill="#444" stroke="#444" stroke-width="0.06">0.4</text>
<line x1="574.2" y1="220.96" x2="576.6" y2="220.96" stroke="#333333" stroke-width="0.9" />
<line x1="638.1" y1="286.2" x2="638.1" y2="288.6" stroke="#333333" stroke-width="0.9" />
<text transform="translate(573.3 222.76) scale(1 1.12)" font-size="4.6" text-anchor="end" fill="#444" stroke="#444" stroke-width="0.06">0.6</text>
<text transform="translate(638.1 293.7) scale(1 1.12)" font-size="4.6" text-anchor="middle" fill="#444" stroke="#444" stroke-width="0.06">0.6</text>
<line x1="574.2" y1="200.38" x2="576.6" y2="200.38" stroke="#333333" stroke-width="0.9" />
<line x1="657.4" y1="286.2" x2="657.4" y2="288.6" stroke="#333333" stroke-width="0.9" />
<text transform="translate(573.3 202.18) scale(1 1.12)" font-size="4.6" text-anchor="end" fill="#444" stroke="#444" stroke-width="0.06">0.8</text>
<text transform="translate(657.4 293.7) scale(1 1.12)" font-size="4.6" text-anchor="middle" fill="#444" stroke="#444" stroke-width="0.06">0.8</text>
<line x1="574.2" y1="179.8" x2="576.6" y2="179.8" stroke="#333333" stroke-width="0.9" />
<line x1="676.7" y1="286.2" x2="676.7" y2="288.6" stroke="#333333" stroke-width="0.9" />
<text transform="translate(573.3 181.6) scale(1 1.12)" font-size="4.6" text-anchor="end" fill="#444" stroke="#444" stroke-width="0.06">1.0</text>
<text transform="translate(676.7 293.7) scale(1 1.12)" font-size="4.6" text-anchor="middle" fill="#444" stroke="#444" stroke-width="0.06">1.0</text>
<text x="629.05" y="300.9" font-size="5.3" text-anchor="middle" fill="#1a1a1a" stroke="#1a1a1a" >Nomogram predicted survival probability</text>
<text x="563.4" y="231.3" font-size="5.1" text-anchor="middle" fill="#1a1a1a" stroke="#1a1a1a" transform="rotate(-90 563.4 231.3)">Observed fraction survival probability</text>
<line x1="650.9" y1="268.6" x2="656.3" y2="268.6" stroke="#0072B5" stroke-width="1" />
<text transform="translate(659.1 270.5) scale(1 1.05)" font-size="4.6" text-anchor="start" fill="#333" stroke="#333" stroke-width="0.05">1-year</text>
<line x1="650.9" y1="273.2" x2="656.3" y2="273.2" stroke="#BC3C29" stroke-width="1" />
<text transform="translate(659.1 275.1) scale(1 1.05)" font-size="4.6" text-anchor="start" fill="#333" stroke="#333" stroke-width="0.05">3-year</text>
<line x1="650.9" y1="277.8" x2="656.3" y2="277.8" stroke="#E18727" stroke-width="1" />
<text transform="translate(659.1 279.7) scale(1 1.05)" font-size="4.6" text-anchor="start" fill="#333" stroke="#333" stroke-width="0.05">5-year</text>
<line x1="650.9" y1="282.4" x2="656.3" y2="282.4" stroke="#b5b5b5" stroke-width="1" />
<text transform="translate(659.1 284.3) scale(1 1.05)" font-size="4.6" text-anchor="start" fill="#333" stroke="#333" stroke-width="0.05">Ideal line</text>
</svg>
</body></html>
